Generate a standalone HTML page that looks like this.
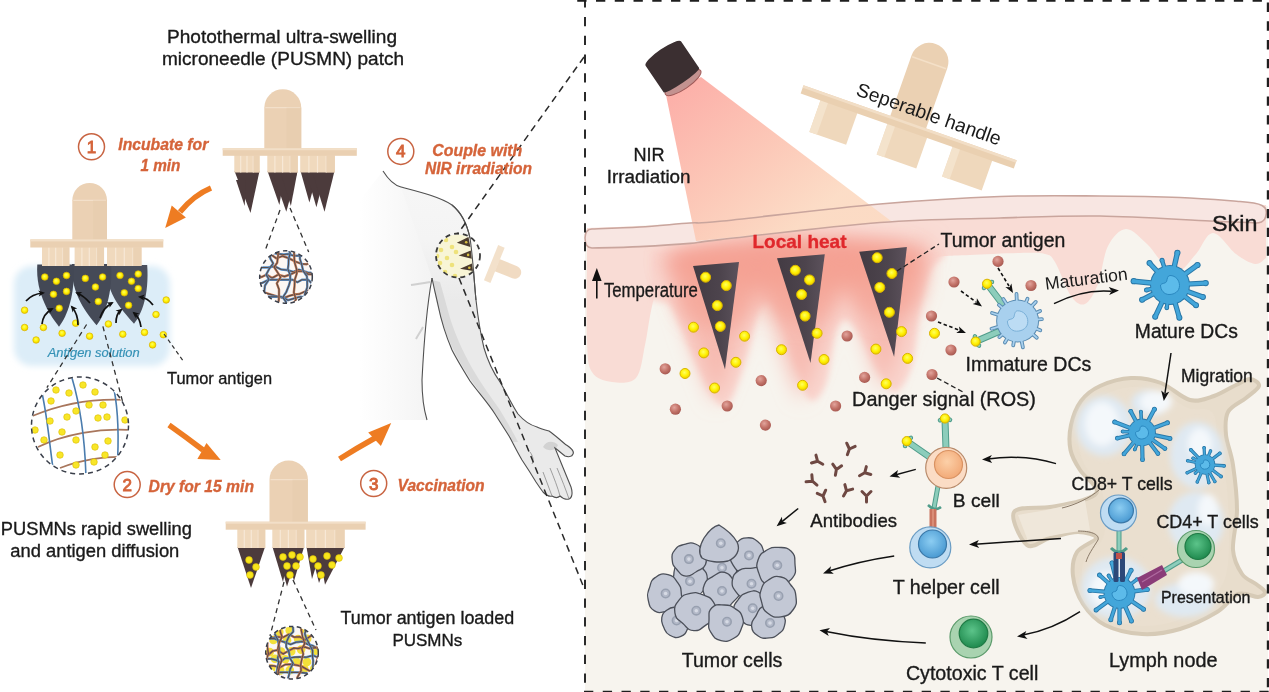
<!DOCTYPE html>
<html><head><meta charset="utf-8"><style>
html,body{margin:0;padding:0;background:#fff;width:1269px;height:692px;overflow:hidden;}
svg{display:block;}
text{font-family:"Liberation Sans", sans-serif;}
svg{will-change:transform;}
</style></head><body>
<svg width="1269" height="692" viewBox="0 0 1269 692">
<defs>
<radialGradient id="gy" cx="0.45" cy="0.4" r="0.6"><stop offset="0" stop-color="#ffff60"/><stop offset="0.6" stop-color="#fff000"/><stop offset="1" stop-color="#eccb00"/></radialGradient>
<radialGradient id="gr" cx="0.4" cy="0.35" r="0.65"><stop offset="0" stop-color="#e2a49c"/><stop offset="0.6" stop-color="#c27268"/><stop offset="1" stop-color="#a85a52"/></radialGradient>
<linearGradient id="beam" x1="690" y1="85" x2="800" y2="225" gradientUnits="userSpaceOnUse"><stop offset="0" stop-color="#fcaaa2"/><stop offset="0.55" stop-color="#fcc4b2"/><stop offset="1" stop-color="#fcdac2"/></linearGradient>
<linearGradient id="needle" x1="0" y1="0" x2="1" y2="0"><stop offset="0" stop-color="#433b43"/><stop offset="0.6" stop-color="#4d444d"/><stop offset="1" stop-color="#5c525c"/></linearGradient>
<radialGradient id="heat" cx="0.5" cy="0.4" r="0.5"><stop offset="0" stop-color="#f59a90" stop-opacity="0.95"/><stop offset="0.55" stop-color="#f7aaa0" stop-opacity="0.7"/><stop offset="1" stop-color="#f8c0b8" stop-opacity="0"/></radialGradient>
<filter id="blur6" x="-50%" y="-50%" width="200%" height="200%"><feGaussianBlur stdDeviation="6"/></filter>
<filter id="blur3" x="-50%" y="-50%" width="200%" height="200%"><feGaussianBlur stdDeviation="3"/></filter>
<filter id="blur10" x="-50%" y="-50%" width="200%" height="200%"><feGaussianBlur stdDeviation="10"/></filter>
<radialGradient id="dcm" cx="0.45" cy="0.45" r="0.6"><stop offset="0" stop-color="#5cc0ee"/><stop offset="1" stop-color="#2f96cc"/></radialGradient>
<radialGradient id="dci" cx="0.45" cy="0.45" r="0.6"><stop offset="0" stop-color="#c4e0f4"/><stop offset="1" stop-color="#98c4e4"/></radialGradient>
<radialGradient id="tum" cx="0.5" cy="0.5" r="0.5"><stop offset="0" stop-color="#d8dce6"/><stop offset="1" stop-color="#c0c6d4"/></radialGradient>
<radialGradient id="gnuc" cx="0.45" cy="0.4" r="0.6"><stop offset="0" stop-color="#5cc48a"/><stop offset="1" stop-color="#1f8a4e"/></radialGradient>
<radialGradient id="bnuc" cx="0.45" cy="0.4" r="0.6"><stop offset="0" stop-color="#8ccdf2"/><stop offset="1" stop-color="#4a9ad2"/></radialGradient>
<radialGradient id="onuc" cx="0.45" cy="0.4" r="0.6"><stop offset="0" stop-color="#fcd0a8"/><stop offset="1" stop-color="#f2aa78"/></radialGradient>
<clipPath id="c1"><circle cx="286" cy="277" r="26"/></clipPath>
<clipPath id="c2"><circle cx="80" cy="425.5" r="48"/></clipPath>
<clipPath id="c3"><circle cx="292" cy="652.7" r="26"/></clipPath>
<clipPath id="c4"><circle cx="458" cy="256" r="21.5"/></clipPath>
<clipPath id="rp"><rect x="585" y="0" width="684" height="692"/></clipPath>
</defs>
<rect x="0" y="0" width="1269" height="692" fill="#ffffff"/>
<path d="M585,229 L700,222 L880,204 L1000,196.5 L1100,196 L1240,201.5 L1268,206 L1268,692 L585,692 Z" fill="#f7f4ee"/>
<path d="M587.0,250.0 C587.0,265.0 586.2,319.7 587.0,340.0 C587.8,360.3 587.8,365.0 592.0,372.0 C596.2,379.0 604.7,381.0 612.0,382.0 C619.3,383.0 630.5,384.2 636.0,378.0 C641.5,371.8 642.7,355.3 645.0,345.0 C647.3,334.7 648.2,325.2 650.0,316.0 C651.8,306.8 654.0,297.3 656.0,290.0 C658.0,282.7 661.0,275.0 662.0,272.0 L700,262 L800,258 L900,262 L945.0,256.0 C949.2,255.8 957.5,255.5 970.0,255.0 C982.5,254.5 1007.5,253.2 1020.0,253.0 C1032.5,252.8 1039.2,252.5 1045.0,254.0 C1050.8,255.5 1050.7,255.0 1055.0,262.0 C1059.3,269.0 1066.0,289.0 1071.0,296.0 C1076.0,303.0 1080.5,306.0 1085.0,304.0 C1089.5,302.0 1094.2,293.7 1098.0,284.0 C1101.8,274.3 1103.3,255.2 1108.0,246.0 C1112.7,236.8 1119.5,229.3 1126.0,229.0 C1132.5,228.7 1141.0,238.5 1147.0,244.0 C1153.0,249.5 1156.8,257.3 1162.0,262.0 C1167.2,266.7 1172.3,273.3 1178.0,272.0 C1183.7,270.7 1190.2,260.5 1196.0,254.0 C1201.8,247.5 1206.3,233.0 1213.0,233.0 C1219.7,233.0 1229.0,248.8 1236.0,254.0 C1243.0,259.2 1250.0,263.3 1255.0,264.0 C1260.0,264.7 1264.2,259.0 1266.0,258.0 L1266,205 L587,228 Z" fill="#f9dcd5"/>
<path d="M650.0,300.0 C651.7,300.3 656.3,300.7 660.0,302.0 C663.7,303.3 667.0,300.0 672.0,308.0 C677.0,316.0 683.3,335.3 690.0,350.0 C696.7,364.7 705.7,387.0 712.0,396.0 C718.3,405.0 722.5,409.7 728.0,404.0 C733.5,398.3 740.0,377.0 745.0,362.0 C750.0,347.0 754.2,324.0 758.0,314.0 C761.8,304.0 764.7,302.0 768.0,302.0 C771.3,302.0 773.5,303.5 778.0,314.0 C782.5,324.5 789.7,350.7 795.0,365.0 C800.3,379.3 804.8,396.8 810.0,400.0 C815.2,403.2 821.8,394.8 826.0,384.0 C830.2,373.2 831.8,345.7 835.0,335.0 C838.2,324.3 841.2,320.5 845.0,320.0 C848.8,319.5 852.5,323.3 858.0,332.0 C863.5,340.7 871.8,362.0 878.0,372.0 C884.2,382.0 889.3,393.0 895.0,392.0 C900.7,391.0 907.8,379.7 912.0,366.0 C916.2,352.3 917.0,325.7 920.0,310.0 C923.0,294.3 925.8,281.0 930.0,272.0 C934.2,263.0 942.5,258.7 945.0,256.0 L945,250 L650,250 Z" fill="#f9d6cf" filter="url(#blur3)"/>
<g filter="url(#blur10)">
<path d="M664,255 Q684.8,330.0 716,405 Q747.2,330.0 768,255 Z" fill="#f6b8ae" opacity="0.9"/>
<path d="M751,248 Q771.0,325.0 801,402 Q831.0,325.0 851,248 Z" fill="#f6b8ae" opacity="0.9"/>
<path d="M836,242 Q855.2,317.0 884,392 Q912.8,317.0 932,242 Z" fill="#f6b8ae" opacity="0.9"/>
</g>
<g filter="url(#blur10)">
<ellipse cx="795" cy="262" rx="130" ry="26" fill="#f59c8e" opacity="0.85"/>
<ellipse cx="716" cy="290" rx="40" ry="38" fill="#f5a294" opacity="0.7"/>
<ellipse cx="801" cy="285" rx="40" ry="38" fill="#f5a294" opacity="0.7"/>
<ellipse cx="884" cy="280" rx="40" ry="38" fill="#f5a294" opacity="0.7"/>
</g>
<path d="M592.0,229.0 C600.0,228.7 623.7,228.0 640.0,227.0 C656.3,226.0 676.7,223.9 690.0,223.0 C703.3,222.1 688.3,224.5 720.0,221.3 C751.7,218.1 833.3,208.1 880.0,204.0 C926.7,199.9 963.3,197.8 1000.0,196.5 C1036.7,195.2 1070.0,195.8 1100.0,196.0 C1130.0,196.2 1156.7,196.6 1180.0,197.5 C1203.3,198.4 1230.0,200.8 1240.0,201.5 C1262,203 1268,206 1266,215 C1265,222 1260,224 1250,222.5 C1243.3,222.2 1235.0,222.1 1210.0,221.0 C1185.0,219.9 1135.0,216.5 1100.0,216.0 C1065.0,215.5 1036.7,216.9 1000.0,218.0 C963.3,219.1 926.7,218.9 880.0,222.5 C833.3,226.1 751.7,236.1 720.0,239.6 C688.3,243.1 703.3,242.2 690.0,243.4 C676.7,244.6 656.3,245.8 640.0,246.6 C623.7,247.4 600.0,247.8 592.0,248.0 C586,248 585,243 585,238 C585,232 587,229.2 592,229 Z" fill="#f8e6e2"/>
<path d="M666,95 L701,77 L891,221 L880,222.5 L696,241 Z" fill="url(#beam)" opacity="0.92"/>
<path d="M592.0,229.0 C600.0,228.7 623.7,228.0 640.0,227.0 C656.3,226.0 676.7,223.9 690.0,223.0 C703.3,222.1 688.3,224.5 720.0,221.3 C751.7,218.1 833.3,208.1 880.0,204.0 C926.7,199.9 963.3,197.8 1000.0,196.5 C1036.7,195.2 1070.0,195.8 1100.0,196.0 C1130.0,196.2 1156.7,196.6 1180.0,197.5 C1203.3,198.4 1230.0,200.8 1240.0,201.5 C1262,203 1268,206 1266,215 C1265,222 1260,224 1250,222.5 C1243.3,222.2 1235.0,222.1 1210.0,221.0 C1185.0,219.9 1135.0,216.5 1100.0,216.0 C1065.0,215.5 1036.7,216.9 1000.0,218.0 C963.3,219.1 926.7,218.9 880.0,222.5 C833.3,226.1 751.7,236.1 720.0,239.6 C688.3,243.1 703.3,242.2 690.0,243.4 C676.7,244.6 656.3,245.8 640.0,246.6 C623.7,247.4 600.0,247.8 592.0,248.0 C586,248 585,243 585,238 C585,232 587,229.2 592,229 Z" fill="none" stroke="#c9a59d" stroke-width="1.6"/>
<g transform="translate(673.5,68.5) rotate(-34.2)"><ellipse cx="0" cy="17" rx="21.3" ry="6.5" fill="#c39290" stroke="#a05a58" stroke-width="1"/><path d="M-21.5,-18 A21.5,5 0 0 1 21.5,-18 L21.5,14 A21.5,3 0 0 1 -21.5,14 Z" fill="#3b2f31"/></g>
<g transform="translate(803.5,85.3) rotate(19.4)"><path d="M92,2 V-64 A19,19 0 0 1 130,-64 V2 Z" fill="#ebd1b3"/><line x1="93" y1="-63" x2="129" y2="-63" stroke="#f4e0c8" stroke-width="1.5"/><rect x="21" y="6" width="39" height="36" fill="#efd8bc"/><rect x="92" y="6" width="42" height="35" fill="#efd8bc"/><rect x="161" y="6" width="42" height="34" fill="#efd8bc"/><rect x="21" y="6" width="8" height="36" fill="#f4e3cc"/><rect x="92" y="6" width="8" height="35" fill="#f4e3cc"/><rect x="161" y="6" width="8" height="34" fill="#f4e3cc"/><rect x="0" y="0" width="226" height="8.6" fill="#ead0b1"/><rect x="0" y="0" width="226" height="2.5" fill="#f2dec6"/></g>
<text transform="translate(855.1,95.1) rotate(19.4)" font-size="19.4" fill="#1a1a1a" textLength="152" lengthAdjust="spacingAndGlyphs">Seperable handle</text>
<path d="M693,266 L739,262 L725,369.4 Z" fill="url(#needle)"/>
<path d="M777,258.2 L824.8,254.3 L810.5,363 Z" fill="url(#needle)"/>
<path d="M859.2,251.8 L906.9,247 L894.1,356.7 Z" fill="url(#needle)"/>
<circle cx="705.6" cy="277.2" r="5.0" fill="url(#gy)" stroke="#d9b300" stroke-width="1"/>
<circle cx="726.3" cy="285.6" r="5.0" fill="url(#gy)" stroke="#d9b300" stroke-width="1"/>
<circle cx="717.3" cy="305.6" r="5.0" fill="url(#gy)" stroke="#d9b300" stroke-width="1"/>
<circle cx="720.3" cy="326.4" r="5.0" fill="url(#gy)" stroke="#d9b300" stroke-width="1"/>
<circle cx="795.3" cy="270.3" r="5.0" fill="url(#gy)" stroke="#d9b300" stroke-width="1"/>
<circle cx="809.5" cy="279.9" r="5.0" fill="url(#gy)" stroke="#d9b300" stroke-width="1"/>
<circle cx="801.6" cy="294.5" r="5.0" fill="url(#gy)" stroke="#d9b300" stroke-width="1"/>
<circle cx="805.1" cy="316.1" r="5.0" fill="url(#gy)" stroke="#d9b300" stroke-width="1"/>
<circle cx="877.2" cy="257.7" r="5.0" fill="url(#gy)" stroke="#d9b300" stroke-width="1"/>
<circle cx="891.9" cy="273.5" r="5.0" fill="url(#gy)" stroke="#d9b300" stroke-width="1"/>
<circle cx="879.8" cy="287.4" r="5.0" fill="url(#gy)" stroke="#d9b300" stroke-width="1"/>
<circle cx="889.4" cy="312.3" r="5.0" fill="url(#gy)" stroke="#d9b300" stroke-width="1"/>
<circle cx="693.5" cy="327.2" r="5.0" fill="url(#gy)" stroke="#d9b300" stroke-width="1"/>
<circle cx="744.6" cy="336.2" r="5.0" fill="url(#gy)" stroke="#d9b300" stroke-width="1"/>
<circle cx="703.8" cy="352.9" r="5.0" fill="url(#gy)" stroke="#d9b300" stroke-width="1"/>
<circle cx="735.9" cy="362.3" r="5.0" fill="url(#gy)" stroke="#d9b300" stroke-width="1"/>
<circle cx="685" cy="373.5" r="5.0" fill="url(#gy)" stroke="#d9b300" stroke-width="1"/>
<circle cx="714.6" cy="388" r="5.0" fill="url(#gy)" stroke="#d9b300" stroke-width="1"/>
<circle cx="781.5" cy="349.7" r="5.0" fill="url(#gy)" stroke="#d9b300" stroke-width="1"/>
<circle cx="817.1" cy="333.3" r="5.0" fill="url(#gy)" stroke="#d9b300" stroke-width="1"/>
<circle cx="824" cy="359.5" r="5.0" fill="url(#gy)" stroke="#d9b300" stroke-width="1"/>
<circle cx="802.6" cy="385.3" r="5.0" fill="url(#gy)" stroke="#d9b300" stroke-width="1"/>
<circle cx="875.9" cy="349.1" r="5.0" fill="url(#gy)" stroke="#d9b300" stroke-width="1"/>
<circle cx="901.5" cy="331.6" r="5.0" fill="url(#gy)" stroke="#d9b300" stroke-width="1"/>
<circle cx="907.6" cy="358.4" r="5.0" fill="url(#gy)" stroke="#d9b300" stroke-width="1"/>
<circle cx="886.2" cy="383.8" r="5.0" fill="url(#gy)" stroke="#d9b300" stroke-width="1"/>
<circle cx="934.5" cy="333.3" r="5.0" fill="url(#gy)" stroke="#d9b300" stroke-width="1"/>
<circle cx="665.2" cy="368.8" r="5.6" fill="url(#gr)"/>
<circle cx="675.4" cy="409.2" r="5.6" fill="url(#gr)"/>
<circle cx="727.2" cy="406" r="5.6" fill="url(#gr)"/>
<circle cx="761.2" cy="380.6" r="5.6" fill="url(#gr)"/>
<circle cx="765.4" cy="425.1" r="5.6" fill="url(#gr)"/>
<circle cx="835.6" cy="406" r="5.6" fill="url(#gr)"/>
<circle cx="847.1" cy="336" r="5.6" fill="url(#gr)"/>
<circle cx="864.6" cy="377.4" r="5.6" fill="url(#gr)"/>
<circle cx="931.5" cy="316" r="5.6" fill="url(#gr)"/>
<circle cx="932" cy="374.5" r="5.6" fill="url(#gr)"/>
<circle cx="954" cy="282" r="5.6" fill="url(#gr)"/>
<circle cx="951" cy="350" r="5.6" fill="url(#gr)"/>
<circle cx="998" cy="261.4" r="5.6" fill="url(#gr)"/>
<circle cx="1031" cy="285.5" r="5.6" fill="url(#gr)"/>
<path d="M1097.0,491.0 C1097.0,485.8 1084.4,476.8 1080.0,470.0 C1075.6,463.2 1072.0,457.5 1070.5,450.0 C1069.0,442.5 1069.2,433.2 1071.0,425.0 C1072.8,416.8 1076.2,407.5 1081.0,401.0 C1085.8,394.5 1091.7,389.8 1100.0,386.0 C1108.3,382.2 1120.8,378.5 1131.0,378.0 C1141.2,377.5 1151.2,379.3 1161.0,383.0 C1170.8,386.7 1181.2,397.8 1190.0,400.0 C1198.8,402.2 1206.3,398.5 1214.0,396.0 C1221.7,393.5 1230.0,387.8 1236.0,385.0 C1242.0,382.2 1246.2,378.8 1250.0,379.0 C1253.8,379.2 1259.7,382.8 1259.0,386.0 C1258.3,389.2 1251.2,393.7 1246.0,398.0 C1240.8,402.3 1231.3,405.8 1228.0,412.0 C1224.7,418.2 1225.2,426.2 1226.0,435.0 C1226.8,443.8 1231.2,452.5 1233.0,465.0 C1234.8,477.5 1237.0,495.8 1237.0,510.0 C1237.0,524.2 1232.2,539.3 1233.0,550.0 C1233.8,560.7 1238.2,568.3 1242.0,574.0 C1245.8,579.7 1252.2,581.0 1256.0,584.0 C1259.8,587.0 1264.7,589.8 1265.0,592.0 C1265.3,594.2 1262.5,596.7 1258.0,597.0 C1253.5,597.3 1244.8,591.5 1238.0,594.0 C1231.2,596.5 1226.7,606.2 1217.0,612.0 C1207.3,617.8 1192.5,625.3 1180.0,629.0 C1167.5,632.7 1154.5,634.7 1142.0,634.0 C1129.5,633.3 1114.8,630.0 1105.0,625.0 C1095.2,620.0 1088.3,612.2 1083.0,604.0 C1077.7,595.8 1074.0,584.7 1073.0,576.0 C1072.0,567.3 1073.2,558.3 1077.0,552.0 C1080.8,545.7 1095.8,541.3 1096.0,538.0 C1096.2,534.7 1085.7,532.0 1078.0,532.0 C1070.3,532.0 1058.5,535.8 1050.0,538.0 C1041.5,540.2 1033.0,549.3 1027.0,545.0 C1021.0,540.7 1010.2,518.3 1014.0,512.0 C1017.8,505.7 1039.0,508.8 1050.0,507.0 C1061.0,505.2 1072.2,503.7 1080.0,501.0 C1087.8,498.3 1097.0,496.2 1097.0,491.0Z" fill="#e8ddcc" stroke="#d6cab6" stroke-width="4"/>
<path d="M1100.0,486.0 C1096.3,477.5 1087.7,471.7 1084.0,464.0 C1080.3,456.3 1078.5,447.7 1078.0,440.0 C1077.5,432.3 1078.7,424.2 1081.0,418.0 C1083.3,411.8 1087.5,407.2 1092.0,403.0 C1096.5,398.8 1101.2,395.7 1108.0,393.0 C1114.8,390.3 1124.3,387.3 1133.0,387.0 C1141.7,386.7 1150.8,387.5 1160.0,391.0 C1169.2,394.5 1179.3,404.5 1188.0,408.0 C1196.7,411.5 1207.0,406.7 1212.0,412.0 C1217.0,417.3 1215.7,428.7 1218.0,440.0 C1220.3,451.3 1224.2,465.0 1226.0,480.0 C1227.8,495.0 1229.0,514.2 1229.0,530.0 C1229.0,545.8 1229.2,563.3 1226.0,575.0 C1222.8,586.7 1218.0,592.5 1210.0,600.0 C1202.0,607.5 1189.3,615.7 1178.0,620.0 C1166.7,624.3 1153.7,626.3 1142.0,626.0 C1130.3,625.7 1116.7,622.3 1108.0,618.0 C1099.3,613.7 1094.3,607.0 1090.0,600.0 C1085.7,593.0 1082.7,583.3 1082.0,576.0 C1081.3,568.7 1082.7,562.0 1086.0,556.0 C1089.3,550.0 1098.7,546.8 1102.0,540.0 C1105.3,533.2 1106.3,524.0 1106.0,515.0 C1105.7,506.0 1103.7,494.5 1100.0,486.0Z" fill="#eadfcf"/>
<path d="M1018,515 C1040,511 1062,508 1085,500 L1090,530 C1068,532 1045,537 1028,541 Z" fill="#efe7da"/>
<g filter="url(#blur3)">
<ellipse cx="1104" cy="426" rx="28" ry="30" fill="#dfe9f2"/>
<ellipse cx="1150" cy="403" rx="19" ry="13" fill="#dfe9f2"/>
<ellipse cx="1197" cy="455" rx="27" ry="33" fill="#dfe9f2"/>
<ellipse cx="1196" cy="522" rx="28" ry="30" fill="#dfe9f2"/>
<ellipse cx="1116" cy="588" rx="35" ry="31" fill="#dfe9f2"/>
<ellipse cx="1185" cy="600" rx="30" ry="17" fill="#dfe9f2"/>
<ellipse cx="1102" cy="424" rx="17" ry="22" fill="#f4f8fb"/>
<ellipse cx="1156" cy="402" rx="16" ry="11" fill="#f4f8fb"/>
<ellipse cx="1200" cy="444" rx="12" ry="16" fill="#f4f8fb"/>
<ellipse cx="1208" cy="510" rx="10" ry="16" fill="#f4f8fb"/>
<ellipse cx="1108" cy="590" rx="18" ry="18" fill="#f4f8fb"/>
<ellipse cx="1196" cy="584" rx="18" ry="12" fill="#f4f8fb"/>
</g>
<path d="M1062,508 C1075,505 1090,498 1099,490" fill="none" stroke="#8a7a68" stroke-width="1"/>
<path d="M1078,531 C1090,531 1100,534 1098,540 C1093,548 1088,555 1086,562" fill="none" stroke="#8a7a68" stroke-width="1"/>
<line x1="1004" y1="306" x2="988" y2="285" stroke="#4f9c8a" stroke-width="7" stroke-linecap="round"/>
<line x1="1004" y1="306" x2="988" y2="285" stroke="#8ccdbb" stroke-width="5" stroke-linecap="round"/>
<path d="M984.0,288.0 Q985.6,281.8 992.0,282.0" fill="none" stroke="#4f9c8a" stroke-width="4.5" stroke-linecap="round"/>
<path d="M984.0,288.0 Q985.6,281.8 992.0,282.0" fill="none" stroke="#8ccdbb" stroke-width="2.5" stroke-linecap="round"/>
<circle cx="987.0909351771057" cy="283.80685241995127" r="4.6" fill="url(#gy)" stroke="#d9b300" stroke-width="1"/>
<line x1="1000" y1="331" x2="977" y2="341" stroke="#4f9c8a" stroke-width="7" stroke-linecap="round"/>
<line x1="1000" y1="331" x2="977" y2="341" stroke="#8ccdbb" stroke-width="5" stroke-linecap="round"/>
<path d="M979.0,345.6 Q973.3,342.6 975.0,336.4" fill="none" stroke="#4f9c8a" stroke-width="4.5" stroke-linecap="round"/>
<path d="M979.0,345.6 Q973.3,342.6 975.0,336.4" fill="none" stroke="#8ccdbb" stroke-width="2.5" stroke-linecap="round"/>
<circle cx="975.6243949156202" cy="341.59808916712166" r="4.6" fill="url(#gy)" stroke="#d9b300" stroke-width="1"/>
<line x1="1029.9" y1="320.1" x2="1041.9" y2="319.2" stroke="#5a8cb2" stroke-width="3.8" stroke-linecap="round"/>
<line x1="1029.0" y1="325.7" x2="1040.3" y2="330.3" stroke="#5a8cb2" stroke-width="3.8" stroke-linecap="round"/>
<line x1="1026.9" y1="329.1" x2="1036.8" y2="337.7" stroke="#5a8cb2" stroke-width="3.8" stroke-linecap="round"/>
<line x1="1020.0" y1="333.1" x2="1022.9" y2="347.3" stroke="#5a8cb2" stroke-width="3.8" stroke-linecap="round"/>
<line x1="1015.4" y1="333.1" x2="1013.2" y2="345.4" stroke="#5a8cb2" stroke-width="3.8" stroke-linecap="round"/>
<line x1="1011.3" y1="331.6" x2="1004.9" y2="342.5" stroke="#5a8cb2" stroke-width="3.8" stroke-linecap="round"/>
<line x1="1008.4" y1="329.1" x2="999.3" y2="337.1" stroke="#5a8cb2" stroke-width="3.8" stroke-linecap="round"/>
<line x1="1005.8" y1="324.5" x2="991.5" y2="328.8" stroke="#5a8cb2" stroke-width="3.8" stroke-linecap="round"/>
<line x1="1005.9" y1="317.3" x2="992.0" y2="313.0" stroke="#5a8cb2" stroke-width="3.8" stroke-linecap="round"/>
<line x1="1008.3" y1="313.0" x2="998.9" y2="304.9" stroke="#5a8cb2" stroke-width="3.8" stroke-linecap="round"/>
<line x1="1010.9" y1="310.7" x2="1003.3" y2="299.0" stroke="#5a8cb2" stroke-width="3.8" stroke-linecap="round"/>
<line x1="1017.1" y1="308.7" x2="1016.5" y2="294.0" stroke="#5a8cb2" stroke-width="3.8" stroke-linecap="round"/>
<line x1="1022.6" y1="309.8" x2="1027.5" y2="298.8" stroke="#5a8cb2" stroke-width="3.8" stroke-linecap="round"/>
<line x1="1026.1" y1="312.1" x2="1035.8" y2="301.9" stroke="#5a8cb2" stroke-width="3.8" stroke-linecap="round"/>
<line x1="1028.8" y1="316.0" x2="1040.1" y2="311.0" stroke="#5a8cb2" stroke-width="3.8" stroke-linecap="round"/>
<circle cx="1017.6" cy="321" r="21.5" fill="#5a8cb2"/>
<line x1="1029.9" y1="320.1" x2="1041.9" y2="319.2" stroke="#a8d0ee" stroke-width="1.8" stroke-linecap="round"/>
<line x1="1029.0" y1="325.7" x2="1040.3" y2="330.3" stroke="#a8d0ee" stroke-width="1.8" stroke-linecap="round"/>
<line x1="1026.9" y1="329.1" x2="1036.8" y2="337.7" stroke="#a8d0ee" stroke-width="1.8" stroke-linecap="round"/>
<line x1="1020.0" y1="333.1" x2="1022.9" y2="347.3" stroke="#a8d0ee" stroke-width="1.8" stroke-linecap="round"/>
<line x1="1015.4" y1="333.1" x2="1013.2" y2="345.4" stroke="#a8d0ee" stroke-width="1.8" stroke-linecap="round"/>
<line x1="1011.3" y1="331.6" x2="1004.9" y2="342.5" stroke="#a8d0ee" stroke-width="1.8" stroke-linecap="round"/>
<line x1="1008.4" y1="329.1" x2="999.3" y2="337.1" stroke="#a8d0ee" stroke-width="1.8" stroke-linecap="round"/>
<line x1="1005.8" y1="324.5" x2="991.5" y2="328.8" stroke="#a8d0ee" stroke-width="1.8" stroke-linecap="round"/>
<line x1="1005.9" y1="317.3" x2="992.0" y2="313.0" stroke="#a8d0ee" stroke-width="1.8" stroke-linecap="round"/>
<line x1="1008.3" y1="313.0" x2="998.9" y2="304.9" stroke="#a8d0ee" stroke-width="1.8" stroke-linecap="round"/>
<line x1="1010.9" y1="310.7" x2="1003.3" y2="299.0" stroke="#a8d0ee" stroke-width="1.8" stroke-linecap="round"/>
<line x1="1017.1" y1="308.7" x2="1016.5" y2="294.0" stroke="#a8d0ee" stroke-width="1.8" stroke-linecap="round"/>
<line x1="1022.6" y1="309.8" x2="1027.5" y2="298.8" stroke="#a8d0ee" stroke-width="1.8" stroke-linecap="round"/>
<line x1="1026.1" y1="312.1" x2="1035.8" y2="301.9" stroke="#a8d0ee" stroke-width="1.8" stroke-linecap="round"/>
<line x1="1028.8" y1="316.0" x2="1040.1" y2="311.0" stroke="#a8d0ee" stroke-width="1.8" stroke-linecap="round"/>
<circle cx="1017.6" cy="321" r="20.5" fill="#a8d0ee"/>
<path d="M1017.6,310.8 C1023.8,310.8 1027.8,315.9 1027.8,321.5 C1027.8,327.7 1022.7,331.2 1016.6,331.2 C1011.5,331.2 1007.4,326.6 1007.4,321.0 C1008.9,318.4 1013.0,320.0 1014.0,316.9 C1014.5,314.3 1015.0,310.8 1017.6,310.8 Z" fill="#bcdcf4" stroke="#7ab0d8" stroke-width="1"/>
<line x1="1158.7" y1="283.8" x2="1133.7" y2="281.2" stroke="#2a78a8" stroke-width="5.4" stroke-linecap="round"/>
<circle cx="1133.7" cy="281.2" r="3.1" fill="#2a78a8"/>
<line x1="1162.2" y1="276.7" x2="1149.5" y2="263.1" stroke="#2a78a8" stroke-width="5.2" stroke-linecap="round"/>
<circle cx="1149.5" cy="263.1" r="3.0" fill="#2a78a8"/>
<line x1="1166.5" y1="274.2" x2="1162.0" y2="260.3" stroke="#2a78a8" stroke-width="4.4" stroke-linecap="round"/>
<circle cx="1162.0" cy="260.3" r="2.5" fill="#2a78a8"/>
<line x1="1172.6" y1="273.9" x2="1177.4" y2="252.8" stroke="#2a78a8" stroke-width="5.4" stroke-linecap="round"/>
<circle cx="1177.4" cy="252.8" r="3.1" fill="#2a78a8"/>
<line x1="1179.2" y1="278.3" x2="1197.5" y2="265.0" stroke="#2a78a8" stroke-width="5.4" stroke-linecap="round"/>
<circle cx="1197.5" cy="265.0" r="3.1" fill="#2a78a8"/>
<line x1="1181.4" y1="284.4" x2="1205.7" y2="283.1" stroke="#2a78a8" stroke-width="5.4" stroke-linecap="round"/>
<circle cx="1205.7" cy="283.1" r="3.1" fill="#2a78a8"/>
<line x1="1180.7" y1="288.9" x2="1202.9" y2="297.0" stroke="#2a78a8" stroke-width="5.2" stroke-linecap="round"/>
<circle cx="1202.9" cy="297.0" r="3.0" fill="#2a78a8"/>
<line x1="1179.0" y1="292.0" x2="1196.0" y2="305.3" stroke="#2a78a8" stroke-width="5.2" stroke-linecap="round"/>
<circle cx="1196.0" cy="305.3" r="3.0" fill="#2a78a8"/>
<line x1="1173.1" y1="296.0" x2="1179.4" y2="317.7" stroke="#2a78a8" stroke-width="5.2" stroke-linecap="round"/>
<circle cx="1179.4" cy="317.7" r="3.0" fill="#2a78a8"/>
<line x1="1168.4" y1="296.3" x2="1166.8" y2="307.8" stroke="#2a78a8" stroke-width="4.2" stroke-linecap="round"/>
<circle cx="1166.8" cy="307.8" r="2.4" fill="#2a78a8"/>
<line x1="1165.2" y1="295.3" x2="1155.2" y2="316.7" stroke="#2a78a8" stroke-width="5.2" stroke-linecap="round"/>
<circle cx="1155.2" cy="316.7" r="3.0" fill="#2a78a8"/>
<line x1="1159.9" y1="290.4" x2="1142.1" y2="299.8" stroke="#2a78a8" stroke-width="5.2" stroke-linecap="round"/>
<circle cx="1142.1" cy="299.8" r="3.0" fill="#2a78a8"/>
<line x1="1158.8" y1="287.4" x2="1146.5" y2="290.0" stroke="#2a78a8" stroke-width="4.4" stroke-linecap="round"/>
<circle cx="1146.5" cy="290.0" r="2.5" fill="#2a78a8"/>
<circle cx="1170" cy="285" r="20.0" fill="#2a78a8"/>
<line x1="1158.7" y1="283.8" x2="1133.7" y2="281.2" stroke="#43a6da" stroke-width="3.4" stroke-linecap="round"/>
<circle cx="1133.7" cy="281.2" r="2.1" fill="#43a6da"/>
<line x1="1162.2" y1="276.7" x2="1149.5" y2="263.1" stroke="#43a6da" stroke-width="3.2" stroke-linecap="round"/>
<circle cx="1149.5" cy="263.1" r="2.0" fill="#43a6da"/>
<line x1="1166.5" y1="274.2" x2="1162.0" y2="260.3" stroke="#43a6da" stroke-width="2.4" stroke-linecap="round"/>
<circle cx="1162.0" cy="260.3" r="1.5" fill="#43a6da"/>
<line x1="1172.6" y1="273.9" x2="1177.4" y2="252.8" stroke="#43a6da" stroke-width="3.4" stroke-linecap="round"/>
<circle cx="1177.4" cy="252.8" r="2.1" fill="#43a6da"/>
<line x1="1179.2" y1="278.3" x2="1197.5" y2="265.0" stroke="#43a6da" stroke-width="3.4" stroke-linecap="round"/>
<circle cx="1197.5" cy="265.0" r="2.1" fill="#43a6da"/>
<line x1="1181.4" y1="284.4" x2="1205.7" y2="283.1" stroke="#43a6da" stroke-width="3.4" stroke-linecap="round"/>
<circle cx="1205.7" cy="283.1" r="2.1" fill="#43a6da"/>
<line x1="1180.7" y1="288.9" x2="1202.9" y2="297.0" stroke="#43a6da" stroke-width="3.2" stroke-linecap="round"/>
<circle cx="1202.9" cy="297.0" r="2.0" fill="#43a6da"/>
<line x1="1179.0" y1="292.0" x2="1196.0" y2="305.3" stroke="#43a6da" stroke-width="3.2" stroke-linecap="round"/>
<circle cx="1196.0" cy="305.3" r="2.0" fill="#43a6da"/>
<line x1="1173.1" y1="296.0" x2="1179.4" y2="317.7" stroke="#43a6da" stroke-width="3.2" stroke-linecap="round"/>
<circle cx="1179.4" cy="317.7" r="2.0" fill="#43a6da"/>
<line x1="1168.4" y1="296.3" x2="1166.8" y2="307.8" stroke="#43a6da" stroke-width="2.2" stroke-linecap="round"/>
<circle cx="1166.8" cy="307.8" r="1.4" fill="#43a6da"/>
<line x1="1165.2" y1="295.3" x2="1155.2" y2="316.7" stroke="#43a6da" stroke-width="3.2" stroke-linecap="round"/>
<circle cx="1155.2" cy="316.7" r="2.0" fill="#43a6da"/>
<line x1="1159.9" y1="290.4" x2="1142.1" y2="299.8" stroke="#43a6da" stroke-width="3.2" stroke-linecap="round"/>
<circle cx="1142.1" cy="299.8" r="2.0" fill="#43a6da"/>
<line x1="1158.8" y1="287.4" x2="1146.5" y2="290.0" stroke="#43a6da" stroke-width="2.4" stroke-linecap="round"/>
<circle cx="1146.5" cy="290.0" r="1.5" fill="#43a6da"/>
<circle cx="1170" cy="285" r="19" fill="#43a6da"/>
<path d="M1170.0,275.5 C1175.7,275.5 1179.5,280.2 1179.5,285.5 C1179.5,291.2 1174.8,294.5 1169.0,294.5 C1164.3,294.5 1160.5,290.2 1160.5,285.0 C1161.9,282.6 1165.7,284.1 1166.7,281.2 C1167.2,278.8 1167.6,275.5 1170.0,275.5 Z" fill="#5cbbea" stroke="#2a88c0" stroke-width="1"/>
<line x1="1134.7" y1="429.7" x2="1114.7" y2="422.0" stroke="#2a78a8" stroke-width="4.3" stroke-linecap="round"/>
<circle cx="1114.7" cy="422.0" r="2.5" fill="#2a78a8"/>
<line x1="1138.3" y1="425.6" x2="1130.7" y2="411.3" stroke="#2a78a8" stroke-width="4.2" stroke-linecap="round"/>
<circle cx="1130.7" cy="411.3" r="2.4" fill="#2a78a8"/>
<line x1="1141.6" y1="424.7" x2="1140.9" y2="411.7" stroke="#2a78a8" stroke-width="3.6" stroke-linecap="round"/>
<circle cx="1140.9" cy="411.7" r="2.0" fill="#2a78a8"/>
<line x1="1145.7" y1="425.6" x2="1154.4" y2="409.2" stroke="#2a78a8" stroke-width="4.3" stroke-linecap="round"/>
<circle cx="1154.4" cy="409.2" r="2.5" fill="#2a78a8"/>
<line x1="1149.3" y1="429.7" x2="1167.4" y2="422.8" stroke="#2a78a8" stroke-width="4.3" stroke-linecap="round"/>
<circle cx="1167.4" cy="422.8" r="2.5" fill="#2a78a8"/>
<line x1="1149.6" y1="434.1" x2="1169.9" y2="438.4" stroke="#2a78a8" stroke-width="4.3" stroke-linecap="round"/>
<circle cx="1169.9" cy="438.4" r="2.5" fill="#2a78a8"/>
<line x1="1148.4" y1="437.0" x2="1164.9" y2="448.6" stroke="#2a78a8" stroke-width="4.2" stroke-linecap="round"/>
<circle cx="1164.9" cy="448.6" r="2.4" fill="#2a78a8"/>
<line x1="1146.7" y1="438.7" x2="1157.9" y2="453.6" stroke="#2a78a8" stroke-width="4.2" stroke-linecap="round"/>
<circle cx="1157.9" cy="453.6" r="2.4" fill="#2a78a8"/>
<line x1="1142.1" y1="440.3" x2="1142.5" y2="459.7" stroke="#2a78a8" stroke-width="4.2" stroke-linecap="round"/>
<circle cx="1142.5" cy="459.7" r="2.4" fill="#2a78a8"/>
<line x1="1139.0" y1="439.7" x2="1134.8" y2="449.4" stroke="#2a78a8" stroke-width="3.4" stroke-linecap="round"/>
<circle cx="1134.8" cy="449.4" r="1.9" fill="#2a78a8"/>
<line x1="1137.0" y1="438.5" x2="1124.0" y2="453.9" stroke="#2a78a8" stroke-width="4.2" stroke-linecap="round"/>
<circle cx="1124.0" cy="453.9" r="2.4" fill="#2a78a8"/>
<line x1="1134.4" y1="434.3" x2="1117.4" y2="438.2" stroke="#2a78a8" stroke-width="4.2" stroke-linecap="round"/>
<circle cx="1117.4" cy="438.2" r="2.4" fill="#2a78a8"/>
<line x1="1134.2" y1="432.1" x2="1122.8" y2="431.5" stroke="#2a78a8" stroke-width="3.6" stroke-linecap="round"/>
<circle cx="1122.8" cy="431.5" r="2.0" fill="#2a78a8"/>
<circle cx="1142" cy="432.5" r="13.9" fill="#2a78a8"/>
<line x1="1134.7" y1="429.7" x2="1114.7" y2="422.0" stroke="#43a6da" stroke-width="2.5" stroke-linecap="round"/>
<circle cx="1114.7" cy="422.0" r="1.6" fill="#43a6da"/>
<line x1="1138.3" y1="425.6" x2="1130.7" y2="411.3" stroke="#43a6da" stroke-width="2.4" stroke-linecap="round"/>
<circle cx="1130.7" cy="411.3" r="1.5" fill="#43a6da"/>
<line x1="1141.6" y1="424.7" x2="1140.9" y2="411.7" stroke="#43a6da" stroke-width="1.8" stroke-linecap="round"/>
<circle cx="1140.9" cy="411.7" r="1.1" fill="#43a6da"/>
<line x1="1145.7" y1="425.6" x2="1154.4" y2="409.2" stroke="#43a6da" stroke-width="2.5" stroke-linecap="round"/>
<circle cx="1154.4" cy="409.2" r="1.6" fill="#43a6da"/>
<line x1="1149.3" y1="429.7" x2="1167.4" y2="422.8" stroke="#43a6da" stroke-width="2.5" stroke-linecap="round"/>
<circle cx="1167.4" cy="422.8" r="1.6" fill="#43a6da"/>
<line x1="1149.6" y1="434.1" x2="1169.9" y2="438.4" stroke="#43a6da" stroke-width="2.5" stroke-linecap="round"/>
<circle cx="1169.9" cy="438.4" r="1.6" fill="#43a6da"/>
<line x1="1148.4" y1="437.0" x2="1164.9" y2="448.6" stroke="#43a6da" stroke-width="2.4" stroke-linecap="round"/>
<circle cx="1164.9" cy="448.6" r="1.5" fill="#43a6da"/>
<line x1="1146.7" y1="438.7" x2="1157.9" y2="453.6" stroke="#43a6da" stroke-width="2.4" stroke-linecap="round"/>
<circle cx="1157.9" cy="453.6" r="1.5" fill="#43a6da"/>
<line x1="1142.1" y1="440.3" x2="1142.5" y2="459.7" stroke="#43a6da" stroke-width="2.4" stroke-linecap="round"/>
<circle cx="1142.5" cy="459.7" r="1.5" fill="#43a6da"/>
<line x1="1139.0" y1="439.7" x2="1134.8" y2="449.4" stroke="#43a6da" stroke-width="1.6" stroke-linecap="round"/>
<circle cx="1134.8" cy="449.4" r="1.0" fill="#43a6da"/>
<line x1="1137.0" y1="438.5" x2="1124.0" y2="453.9" stroke="#43a6da" stroke-width="2.4" stroke-linecap="round"/>
<circle cx="1124.0" cy="453.9" r="1.5" fill="#43a6da"/>
<line x1="1134.4" y1="434.3" x2="1117.4" y2="438.2" stroke="#43a6da" stroke-width="2.4" stroke-linecap="round"/>
<circle cx="1117.4" cy="438.2" r="1.5" fill="#43a6da"/>
<line x1="1134.2" y1="432.1" x2="1122.8" y2="431.5" stroke="#43a6da" stroke-width="1.8" stroke-linecap="round"/>
<circle cx="1122.8" cy="431.5" r="1.1" fill="#43a6da"/>
<circle cx="1142" cy="432.5" r="13" fill="#43a6da"/>
<path d="M1142.0,426.0 C1145.9,426.0 1148.5,429.2 1148.5,432.8 C1148.5,436.7 1145.2,439.0 1141.3,439.0 C1138.1,439.0 1135.5,436.1 1135.5,432.5 C1136.5,430.9 1139.1,431.9 1139.7,429.9 C1140.0,428.3 1140.4,426.0 1142.0,426.0 Z" fill="#5cbbea" stroke="#2a88c0" stroke-width="1"/>
<line x1="1201.0" y1="460.4" x2="1190.8" y2="449.8" stroke="#2a78a8" stroke-width="3.4" stroke-linecap="round"/>
<circle cx="1190.8" cy="449.8" r="1.9" fill="#2a78a8"/>
<line x1="1204.7" y1="458.8" x2="1204.1" y2="447.7" stroke="#2a78a8" stroke-width="3.2" stroke-linecap="round"/>
<circle cx="1204.1" cy="447.7" r="1.8" fill="#2a78a8"/>
<line x1="1207.1" y1="459.2" x2="1210.5" y2="451.0" stroke="#2a78a8" stroke-width="3.2" stroke-linecap="round"/>
<circle cx="1210.5" cy="451.0" r="1.8" fill="#2a78a8"/>
<line x1="1209.6" y1="461.1" x2="1219.8" y2="453.4" stroke="#2a78a8" stroke-width="3.4" stroke-linecap="round"/>
<circle cx="1219.8" cy="453.4" r="1.9" fill="#2a78a8"/>
<line x1="1210.7" y1="464.9" x2="1224.0" y2="465.8" stroke="#2a78a8" stroke-width="3.4" stroke-linecap="round"/>
<circle cx="1224.0" cy="465.8" r="1.9" fill="#2a78a8"/>
<line x1="1209.6" y1="467.9" x2="1221.0" y2="476.5" stroke="#2a78a8" stroke-width="3.4" stroke-linecap="round"/>
<circle cx="1221.0" cy="476.5" r="1.9" fill="#2a78a8"/>
<line x1="1207.8" y1="469.4" x2="1214.8" y2="481.5" stroke="#2a78a8" stroke-width="3.2" stroke-linecap="round"/>
<circle cx="1214.8" cy="481.5" r="1.8" fill="#2a78a8"/>
<line x1="1206.2" y1="470.1" x2="1208.8" y2="482.6" stroke="#2a78a8" stroke-width="3.2" stroke-linecap="round"/>
<circle cx="1208.8" cy="482.6" r="1.8" fill="#2a78a8"/>
<line x1="1202.7" y1="469.7" x2="1197.3" y2="481.9" stroke="#2a78a8" stroke-width="3.2" stroke-linecap="round"/>
<circle cx="1197.3" cy="481.9" r="1.8" fill="#2a78a8"/>
<line x1="1200.8" y1="468.3" x2="1195.4" y2="473.1" stroke="#2a78a8" stroke-width="3.2" stroke-linecap="round"/>
<circle cx="1195.4" cy="473.1" r="1.8" fill="#2a78a8"/>
<line x1="1199.8" y1="466.9" x2="1187.2" y2="472.8" stroke="#2a78a8" stroke-width="3.2" stroke-linecap="round"/>
<circle cx="1187.2" cy="472.8" r="1.8" fill="#2a78a8"/>
<line x1="1199.4" y1="463.3" x2="1187.7" y2="460.8" stroke="#2a78a8" stroke-width="3.2" stroke-linecap="round"/>
<circle cx="1187.7" cy="460.8" r="1.8" fill="#2a78a8"/>
<line x1="1200.0" y1="461.8" x2="1193.1" y2="458.2" stroke="#2a78a8" stroke-width="3.2" stroke-linecap="round"/>
<circle cx="1193.1" cy="458.2" r="1.8" fill="#2a78a8"/>
<circle cx="1205" cy="464.5" r="10.3" fill="#2a78a8"/>
<line x1="1201.0" y1="460.4" x2="1190.8" y2="449.8" stroke="#43a6da" stroke-width="1.8" stroke-linecap="round"/>
<circle cx="1190.8" cy="449.8" r="1.1" fill="#43a6da"/>
<line x1="1204.7" y1="458.8" x2="1204.1" y2="447.7" stroke="#43a6da" stroke-width="1.6" stroke-linecap="round"/>
<circle cx="1204.1" cy="447.7" r="1.0" fill="#43a6da"/>
<line x1="1207.1" y1="459.2" x2="1210.5" y2="451.0" stroke="#43a6da" stroke-width="1.6" stroke-linecap="round"/>
<circle cx="1210.5" cy="451.0" r="1.0" fill="#43a6da"/>
<line x1="1209.6" y1="461.1" x2="1219.8" y2="453.4" stroke="#43a6da" stroke-width="1.8" stroke-linecap="round"/>
<circle cx="1219.8" cy="453.4" r="1.1" fill="#43a6da"/>
<line x1="1210.7" y1="464.9" x2="1224.0" y2="465.8" stroke="#43a6da" stroke-width="1.8" stroke-linecap="round"/>
<circle cx="1224.0" cy="465.8" r="1.1" fill="#43a6da"/>
<line x1="1209.6" y1="467.9" x2="1221.0" y2="476.5" stroke="#43a6da" stroke-width="1.8" stroke-linecap="round"/>
<circle cx="1221.0" cy="476.5" r="1.1" fill="#43a6da"/>
<line x1="1207.8" y1="469.4" x2="1214.8" y2="481.5" stroke="#43a6da" stroke-width="1.6" stroke-linecap="round"/>
<circle cx="1214.8" cy="481.5" r="1.0" fill="#43a6da"/>
<line x1="1206.2" y1="470.1" x2="1208.8" y2="482.6" stroke="#43a6da" stroke-width="1.6" stroke-linecap="round"/>
<circle cx="1208.8" cy="482.6" r="1.0" fill="#43a6da"/>
<line x1="1202.7" y1="469.7" x2="1197.3" y2="481.9" stroke="#43a6da" stroke-width="1.6" stroke-linecap="round"/>
<circle cx="1197.3" cy="481.9" r="1.0" fill="#43a6da"/>
<line x1="1200.8" y1="468.3" x2="1195.4" y2="473.1" stroke="#43a6da" stroke-width="1.6" stroke-linecap="round"/>
<circle cx="1195.4" cy="473.1" r="1.0" fill="#43a6da"/>
<line x1="1199.8" y1="466.9" x2="1187.2" y2="472.8" stroke="#43a6da" stroke-width="1.6" stroke-linecap="round"/>
<circle cx="1187.2" cy="472.8" r="1.0" fill="#43a6da"/>
<line x1="1199.4" y1="463.3" x2="1187.7" y2="460.8" stroke="#43a6da" stroke-width="1.6" stroke-linecap="round"/>
<circle cx="1187.7" cy="460.8" r="1.0" fill="#43a6da"/>
<line x1="1200.0" y1="461.8" x2="1193.1" y2="458.2" stroke="#43a6da" stroke-width="1.6" stroke-linecap="round"/>
<circle cx="1193.1" cy="458.2" r="1.0" fill="#43a6da"/>
<circle cx="1205" cy="464.5" r="9.5" fill="#43a6da"/>
<path d="M1205.0,459.8 C1207.8,459.8 1209.8,462.1 1209.8,464.7 C1209.8,467.6 1207.4,469.2 1204.5,469.2 C1202.2,469.2 1200.2,467.1 1200.2,464.5 C1201.0,463.3 1202.9,464.0 1203.3,462.6 C1203.6,461.4 1203.8,459.8 1205.0,459.8 Z" fill="#5cbbea" stroke="#2a88c0" stroke-width="1"/>
<line x1="1117.3" y1="584.3" x2="1112.0" y2="562.9" stroke="#2a78a8" stroke-width="4.5" stroke-linecap="round"/>
<circle cx="1112.0" cy="562.9" r="2.5" fill="#2a78a8"/>
<line x1="1123.6" y1="585.0" x2="1131.1" y2="570.3" stroke="#2a78a8" stroke-width="4.3" stroke-linecap="round"/>
<circle cx="1131.1" cy="570.3" r="2.5" fill="#2a78a8"/>
<line x1="1126.6" y1="587.5" x2="1136.9" y2="579.4" stroke="#2a78a8" stroke-width="3.7" stroke-linecap="round"/>
<circle cx="1136.9" cy="579.4" r="2.1" fill="#2a78a8"/>
<line x1="1128.4" y1="591.9" x2="1147.3" y2="589.6" stroke="#2a78a8" stroke-width="4.5" stroke-linecap="round"/>
<circle cx="1147.3" cy="589.6" r="2.5" fill="#2a78a8"/>
<line x1="1127.0" y1="598.0" x2="1143.5" y2="609.2" stroke="#2a78a8" stroke-width="4.5" stroke-linecap="round"/>
<circle cx="1143.5" cy="609.2" r="2.5" fill="#2a78a8"/>
<line x1="1123.0" y1="601.3" x2="1131.4" y2="620.9" stroke="#2a78a8" stroke-width="4.5" stroke-linecap="round"/>
<circle cx="1131.4" cy="620.9" r="2.5" fill="#2a78a8"/>
<line x1="1119.5" y1="602.0" x2="1119.5" y2="622.8" stroke="#2a78a8" stroke-width="4.3" stroke-linecap="round"/>
<circle cx="1119.5" cy="622.8" r="2.5" fill="#2a78a8"/>
<line x1="1116.7" y1="601.6" x2="1110.8" y2="619.7" stroke="#2a78a8" stroke-width="4.3" stroke-linecap="round"/>
<circle cx="1110.8" cy="619.7" r="2.5" fill="#2a78a8"/>
<line x1="1112.2" y1="598.3" x2="1096.1" y2="610.0" stroke="#2a78a8" stroke-width="4.3" stroke-linecap="round"/>
<circle cx="1096.1" cy="610.0" r="2.5" fill="#2a78a8"/>
<line x1="1110.7" y1="594.9" x2="1100.4" y2="597.1" stroke="#2a78a8" stroke-width="3.5" stroke-linecap="round"/>
<circle cx="1100.4" cy="597.1" r="2.0" fill="#2a78a8"/>
<line x1="1110.5" y1="592.2" x2="1089.9" y2="590.4" stroke="#2a78a8" stroke-width="4.3" stroke-linecap="round"/>
<circle cx="1089.9" cy="590.4" r="2.5" fill="#2a78a8"/>
<line x1="1112.8" y1="587.0" x2="1099.5" y2="575.0" stroke="#2a78a8" stroke-width="4.3" stroke-linecap="round"/>
<circle cx="1099.5" cy="575.0" r="2.5" fill="#2a78a8"/>
<line x1="1114.7" y1="585.4" x2="1108.7" y2="575.7" stroke="#2a78a8" stroke-width="3.7" stroke-linecap="round"/>
<circle cx="1108.7" cy="575.7" r="2.1" fill="#2a78a8"/>
<circle cx="1119.5" cy="593" r="15.9" fill="#2a78a8"/>
<line x1="1117.3" y1="584.3" x2="1112.0" y2="562.9" stroke="#43a6da" stroke-width="2.7" stroke-linecap="round"/>
<circle cx="1112.0" cy="562.9" r="1.6" fill="#43a6da"/>
<line x1="1123.6" y1="585.0" x2="1131.1" y2="570.3" stroke="#43a6da" stroke-width="2.5" stroke-linecap="round"/>
<circle cx="1131.1" cy="570.3" r="1.6" fill="#43a6da"/>
<line x1="1126.6" y1="587.5" x2="1136.9" y2="579.4" stroke="#43a6da" stroke-width="1.9" stroke-linecap="round"/>
<circle cx="1136.9" cy="579.4" r="1.2" fill="#43a6da"/>
<line x1="1128.4" y1="591.9" x2="1147.3" y2="589.6" stroke="#43a6da" stroke-width="2.7" stroke-linecap="round"/>
<circle cx="1147.3" cy="589.6" r="1.6" fill="#43a6da"/>
<line x1="1127.0" y1="598.0" x2="1143.5" y2="609.2" stroke="#43a6da" stroke-width="2.7" stroke-linecap="round"/>
<circle cx="1143.5" cy="609.2" r="1.6" fill="#43a6da"/>
<line x1="1123.0" y1="601.3" x2="1131.4" y2="620.9" stroke="#43a6da" stroke-width="2.7" stroke-linecap="round"/>
<circle cx="1131.4" cy="620.9" r="1.6" fill="#43a6da"/>
<line x1="1119.5" y1="602.0" x2="1119.5" y2="622.8" stroke="#43a6da" stroke-width="2.5" stroke-linecap="round"/>
<circle cx="1119.5" cy="622.8" r="1.6" fill="#43a6da"/>
<line x1="1116.7" y1="601.6" x2="1110.8" y2="619.7" stroke="#43a6da" stroke-width="2.5" stroke-linecap="round"/>
<circle cx="1110.8" cy="619.7" r="1.6" fill="#43a6da"/>
<line x1="1112.2" y1="598.3" x2="1096.1" y2="610.0" stroke="#43a6da" stroke-width="2.5" stroke-linecap="round"/>
<circle cx="1096.1" cy="610.0" r="1.6" fill="#43a6da"/>
<line x1="1110.7" y1="594.9" x2="1100.4" y2="597.1" stroke="#43a6da" stroke-width="1.7" stroke-linecap="round"/>
<circle cx="1100.4" cy="597.1" r="1.1" fill="#43a6da"/>
<line x1="1110.5" y1="592.2" x2="1089.9" y2="590.4" stroke="#43a6da" stroke-width="2.5" stroke-linecap="round"/>
<circle cx="1089.9" cy="590.4" r="1.6" fill="#43a6da"/>
<line x1="1112.8" y1="587.0" x2="1099.5" y2="575.0" stroke="#43a6da" stroke-width="2.5" stroke-linecap="round"/>
<circle cx="1099.5" cy="575.0" r="1.6" fill="#43a6da"/>
<line x1="1114.7" y1="585.4" x2="1108.7" y2="575.7" stroke="#43a6da" stroke-width="1.9" stroke-linecap="round"/>
<circle cx="1108.7" cy="575.7" r="1.2" fill="#43a6da"/>
<circle cx="1119.5" cy="593" r="15" fill="#43a6da"/>
<path d="M1119.5,585.5 C1124.0,585.5 1127.0,589.2 1127.0,593.4 C1127.0,597.9 1123.2,600.5 1118.8,600.5 C1115.0,600.5 1112.0,597.1 1112.0,593.0 C1113.1,591.1 1116.1,592.2 1116.9,590.0 C1117.2,588.1 1117.6,585.5 1119.5,585.5 Z" fill="#5cbbea" stroke="#2a88c0" stroke-width="1"/>
<line x1="1119" y1="528" x2="1119" y2="552" stroke="#4f9c8a" stroke-width="5"/>
<line x1="1119" y1="528" x2="1119" y2="552" stroke="#8ccdbb" stroke-width="3"/>
<path d="M1111,548 Q1119,556 1127,548" fill="none" stroke="#4f9c8a" stroke-width="3"/>
<rect x="1113.5" y="552" width="5" height="30" rx="1.5" fill="#2c4878"/>
<rect x="1120" y="552" width="5" height="30" rx="1.5" fill="#2c4878"/>
<rect x="1116" y="553" width="6" height="6" fill="#c0504a"/>
<line x1="1182" y1="560" x2="1162" y2="572" stroke="#4f9c8a" stroke-width="5"/>
<line x1="1182" y1="560" x2="1162" y2="572" stroke="#8ccdbb" stroke-width="3"/>
<path d="M1137,578 L1162,565 L1167,575 L1142,590 Z" fill="#8a3c78"/>
<path d="M1142,582 L1162,570" stroke="#b06aa0" stroke-width="1.2"/>
<circle cx="1118.5" cy="513" r="18" fill="#bfdcf2" stroke="#6a9cc4" stroke-width="1.2"/>
<circle cx="1121" cy="510.5" r="12.4" fill="url(#bnuc)" stroke="#3a78a8" stroke-width="1.2"/>
<circle cx="1196" cy="549" r="18.5" fill="#a9d3b0" stroke="#5a9a6a" stroke-width="1.2"/>
<circle cx="1198" cy="546.5" r="13" fill="url(#gnuc)" stroke="#1e7a44" stroke-width="1.2"/>
<line x1="946" y1="449" x2="945" y2="420" stroke="#4f9c8a" stroke-width="7" stroke-linecap="round"/>
<line x1="946" y1="449" x2="945" y2="420" stroke="#8ccdbb" stroke-width="5" stroke-linecap="round"/>
<path d="M940.0,420.2 Q944.9,416.0 950.0,419.8" fill="none" stroke="#4f9c8a" stroke-width="4.5" stroke-linecap="round"/>
<path d="M940.0,420.2 Q944.9,416.0 950.0,419.8" fill="none" stroke="#8ccdbb" stroke-width="2.5" stroke-linecap="round"/>
<circle cx="944.9483065862403" cy="418.5008910009696" r="4.6" fill="url(#gy)" stroke="#d9b300" stroke-width="1"/>
<line x1="931" y1="458" x2="908" y2="442" stroke="#4f9c8a" stroke-width="7" stroke-linecap="round"/>
<line x1="931" y1="458" x2="908" y2="442" stroke="#8ccdbb" stroke-width="5" stroke-linecap="round"/>
<path d="M905.1,446.1 Q904.7,439.7 910.9,437.9" fill="none" stroke="#4f9c8a" stroke-width="4.5" stroke-linecap="round"/>
<path d="M905.1,446.1 Q904.7,439.7 910.9,437.9" fill="none" stroke="#8ccdbb" stroke-width="2.5" stroke-linecap="round"/>
<circle cx="906.7686421973218" cy="441.1434032677021" r="4.6" fill="url(#gy)" stroke="#d9b300" stroke-width="1"/>
<line x1="938" y1="486" x2="934" y2="508" stroke="#4f9c8a" stroke-width="5"/>
<line x1="938" y1="486" x2="934" y2="508" stroke="#8ccdbb" stroke-width="3"/>
<path d="M928,505 Q935,512 941,507" fill="none" stroke="#4f9c8a" stroke-width="2.5"/>
<rect x="929.5" y="509" width="7" height="19" fill="#c9735e"/>
<line x1="933" y1="509" x2="933" y2="528" stroke="#e8a890" stroke-width="1"/>
<circle cx="946.2" cy="467.9" r="20.5" fill="#fbdcc5" stroke="#b88a6a" stroke-width="1.2"/>
<circle cx="948.5" cy="464.5" r="14" fill="url(#onuc)" stroke="#d99262" stroke-width="1.2"/>
<circle cx="930.3" cy="547.4" r="20.5" fill="#bfdcf2" stroke="#6a9cc4" stroke-width="1.2"/>
<circle cx="932.5" cy="544" r="14" fill="url(#bnuc)" stroke="#3a78a8" stroke-width="1.2"/>
<circle cx="971" cy="637" r="21" fill="#a9d3b0" stroke="#5a9a6a" stroke-width="1.2"/>
<circle cx="973.5" cy="633.5" r="14.3" fill="url(#gnuc)" stroke="#1e7a44" stroke-width="1.2"/>
<g transform="translate(849.4,449) rotate(20)"><path d="M0,6 L0,0 M0,0 L-4.5,-4.5 M0,0 L4.5,-4.5" stroke="#6e4842" stroke-width="3" stroke-linecap="round" fill="none"/></g>
<g transform="translate(817.6,461.3) rotate(-60)"><path d="M0,6 L0,0 M0,0 L-4.5,-4.5 M0,0 L4.5,-4.5" stroke="#6e4842" stroke-width="3" stroke-linecap="round" fill="none"/></g>
<g transform="translate(836.4,469.4) rotate(10)"><path d="M0,6 L0,0 M0,0 L-4.5,-4.5 M0,0 L4.5,-4.5" stroke="#6e4842" stroke-width="3" stroke-linecap="round" fill="none"/></g>
<g transform="translate(864.7,472.8) rotate(60)"><path d="M0,6 L0,0 M0,0 L-4.5,-4.5 M0,0 L4.5,-4.5" stroke="#6e4842" stroke-width="3" stroke-linecap="round" fill="none"/></g>
<g transform="translate(812.4,481.2) rotate(-50)"><path d="M0,6 L0,0 M0,0 L-4.5,-4.5 M0,0 L4.5,-4.5" stroke="#6e4842" stroke-width="3" stroke-linecap="round" fill="none"/></g>
<g transform="translate(846.5,490.8) rotate(30)"><path d="M0,6 L0,0 M0,0 L-4.5,-4.5 M0,0 L4.5,-4.5" stroke="#6e4842" stroke-width="3" stroke-linecap="round" fill="none"/></g>
<g transform="translate(823,496) rotate(-20)"><path d="M0,6 L0,0 M0,0 L-4.5,-4.5 M0,0 L4.5,-4.5" stroke="#6e4842" stroke-width="3" stroke-linecap="round" fill="none"/></g>
<g transform="translate(866.5,496) rotate(0)"><path d="M0,6 L0,0 M0,0 L-4.5,-4.5 M0,0 L4.5,-4.5" stroke="#6e4842" stroke-width="3" stroke-linecap="round" fill="none"/></g>
<path d="M704.5,572.8 C702.6,566.8 701.4,565.8 703.7,560.4 C706.1,555.1 707.7,555.2 713.3,552.7 C718.9,550.2 719.0,549.9 724.8,551.1 C730.5,552.3 731.6,552.6 734.8,557.2 C738.0,561.8 737.0,562.6 736.7,568.5 C736.3,574.3 737.1,574.8 733.5,579.3 C729.9,583.7 729.2,584.1 723.2,585.1 C717.2,586.1 716.1,586.3 711.2,583.0 C706.2,579.7 706.5,578.8 704.5,572.8Z" fill="#c3c8d5" stroke="#4c505a" stroke-width="1.3"/>
<circle cx="722" cy="567.7" r="4.2" fill="#b3b9c8" stroke="#98a0b0" stroke-width="1.6"/>
<circle cx="722" cy="567.7" r="1.8" fill="#d6dae4"/>
<path d="M703.2,590.8 C699.5,595.4 699.4,594.6 693.5,596.8 C687.6,599.0 686.9,600.8 681.2,598.9 C675.5,596.9 674.2,595.2 672.1,589.5 C670.0,583.8 672.1,583.9 673.4,577.4 C674.8,570.8 672.7,569.3 677.2,565.0 C681.7,560.7 683.7,560.5 690.3,561.2 C697.0,562.0 697.4,562.9 701.9,567.7 C706.5,572.5 707.0,573.1 707.4,579.2 C707.7,585.4 706.9,586.1 703.2,590.8Z" fill="#c3c8d5" stroke="#4c505a" stroke-width="1.3"/>
<circle cx="690" cy="581.2" r="4.2" fill="#b3b9c8" stroke="#98a0b0" stroke-width="1.6"/>
<circle cx="690" cy="581.2" r="1.8" fill="#d6dae4"/>
<path d="M696.2,571.7 C690.9,574.8 691.1,576.7 685.9,576.1 C680.8,575.5 680.5,573.8 676.8,569.5 C673.2,565.2 672.7,565.3 672.2,560.0 C671.7,554.7 671.8,553.7 675.1,549.6 C678.4,545.4 679.0,545.9 684.4,544.4 C689.9,542.9 690.4,541.9 695.5,544.0 C700.5,546.2 700.6,547.0 703.3,552.5 C706.0,557.9 707.4,559.3 705.5,564.4 C703.6,569.5 701.4,568.5 696.2,571.7Z" fill="#c3c8d5" stroke="#4c505a" stroke-width="1.3"/>
<circle cx="688.9" cy="559.1" r="4.2" fill="#b3b9c8" stroke="#98a0b0" stroke-width="1.6"/>
<circle cx="688.9" cy="559.1" r="1.8" fill="#d6dae4"/>
<path d="M730.6,553.3 C731.4,547.4 732.0,547.2 736.4,543.0 C740.8,538.9 741.2,538.1 747.0,537.8 C752.8,537.5 753.6,538.2 758.1,541.9 C762.5,545.6 761.8,545.8 763.7,551.7 C765.5,557.6 767.2,558.3 765.0,564.0 C762.8,569.6 761.4,570.5 755.5,572.9 C749.6,575.3 748.7,575.1 742.7,573.0 C736.7,570.9 736.3,570.4 733.1,565.2 C729.8,559.9 729.7,559.2 730.6,553.3Z" fill="#c3c8d5" stroke="#4c505a" stroke-width="1.3"/>
<circle cx="749" cy="555.4" r="4.2" fill="#b3b9c8" stroke="#98a0b0" stroke-width="1.6"/>
<circle cx="749" cy="555.4" r="1.8" fill="#d6dae4"/>
<path d="M719,525 C724,528 733,535 737,542 C741,550 736,558 728,561 C720,563 708,562 702,558 C698,553 700,545 704,538 C708,532 714,526 719,525 Z" fill="#c3c8d5" stroke="#4c505a" stroke-width="1.3"/>
<circle cx="720.8" cy="543.2" r="4.2" fill="#b3b9c8" stroke="#98a0b0" stroke-width="1.6"/>
<circle cx="720.8" cy="543.2" r="1.8" fill="#d6dae4"/>
<path d="M681.3,593.6 C681.9,599.9 683.4,601.6 679.7,606.3 C676.0,610.9 674.4,609.9 667.6,611.1 C660.9,612.3 659.7,614.0 654.5,610.9 C649.3,607.7 649.4,605.6 648.1,599.4 C646.7,593.3 647.5,593.8 649.4,587.9 C651.4,582.0 650.4,580.9 655.4,577.4 C660.3,573.8 662.1,573.2 668.0,574.6 C673.9,576.0 674.1,577.6 677.7,582.6 C681.2,587.7 680.8,587.3 681.3,593.6Z" fill="#c3c8d5" stroke="#4c505a" stroke-width="1.3"/>
<circle cx="665.6" cy="593.5" r="4.2" fill="#b3b9c8" stroke="#98a0b0" stroke-width="1.6"/>
<circle cx="665.6" cy="593.5" r="1.8" fill="#d6dae4"/>
<path d="M687.9,628.0 C685.7,632.8 685.8,634.3 680.9,636.3 C676.1,638.3 674.4,637.8 669.8,635.3 C665.2,632.9 665.8,631.7 663.6,627.0 C661.5,622.3 660.9,622.3 661.8,617.7 C662.7,613.2 663.4,612.7 667.1,609.9 C670.9,607.1 670.8,607.5 675.9,607.1 C681.0,606.7 682.7,605.4 686.2,608.4 C689.8,611.5 688.8,613.2 689.3,618.4 C689.7,623.6 690.1,623.2 687.9,628.0Z" fill="#c3c8d5" stroke="#4c505a" stroke-width="1.3"/>
<circle cx="676.6" cy="620.5" r="4.2" fill="#b3b9c8" stroke="#98a0b0" stroke-width="1.6"/>
<circle cx="676.6" cy="620.5" r="1.8" fill="#d6dae4"/>
<path d="M704.4,584.6 C706.6,579.2 707.6,579.6 713.0,576.4 C718.4,573.1 719.2,571.2 724.7,572.4 C730.3,573.5 729.8,575.7 733.8,580.7 C737.8,585.8 739.8,585.8 739.6,591.4 C739.5,597.0 737.5,597.2 733.3,601.8 C729.0,606.3 729.3,607.5 723.7,608.5 C718.1,609.4 717.3,608.5 712.3,605.3 C707.3,602.1 707.0,602.0 704.9,596.5 C702.8,590.9 702.3,589.9 704.4,584.6Z" fill="#c3c8d5" stroke="#4c505a" stroke-width="1.3"/>
<circle cx="722" cy="591" r="4.2" fill="#b3b9c8" stroke="#98a0b0" stroke-width="1.6"/>
<circle cx="722" cy="591" r="1.8" fill="#d6dae4"/>
<path d="M768.4,580.3 C769.0,586.4 767.7,586.1 764.6,591.6 C761.6,597.2 762.2,599.2 757.0,601.1 C751.9,602.9 750.8,601.0 745.3,598.6 C739.7,596.2 739.7,596.9 736.2,592.1 C732.8,587.4 731.6,586.5 732.3,580.7 C733.0,574.9 734.2,573.7 739.1,570.4 C743.9,567.1 744.1,568.7 750.3,568.3 C756.6,568.0 757.7,565.8 762.5,569.0 C767.4,572.2 767.9,574.3 768.4,580.3Z" fill="#c3c8d5" stroke="#4c505a" stroke-width="1.3"/>
<circle cx="751.5" cy="583.7" r="4.2" fill="#b3b9c8" stroke="#98a0b0" stroke-width="1.6"/>
<circle cx="751.5" cy="583.7" r="1.8" fill="#d6dae4"/>
<path d="M780.6,583.6 C773.7,585.4 772.6,587.2 766.7,584.3 C760.9,581.5 761.0,579.4 758.7,572.9 C756.4,566.3 756.0,565.8 758.1,559.8 C760.2,553.8 761.0,553.6 766.5,550.3 C771.9,547.0 771.8,547.1 778.4,547.4 C785.0,547.7 786.7,546.8 791.2,551.3 C795.6,555.8 794.6,557.2 795.0,564.2 C795.5,571.2 796.6,572.4 792.7,577.6 C788.9,582.7 787.6,581.8 780.6,583.6Z" fill="#c3c8d5" stroke="#4c505a" stroke-width="1.3"/>
<circle cx="777.3" cy="565.3" r="4.2" fill="#b3b9c8" stroke="#98a0b0" stroke-width="1.6"/>
<circle cx="777.3" cy="565.3" r="1.8" fill="#d6dae4"/>
<path d="M740.8,619.6 C736.4,615.6 734.7,615.5 734.0,610.1 C733.4,604.7 735.0,604.0 738.4,599.3 C741.9,594.7 741.7,594.5 747.1,592.6 C752.5,590.7 754.0,589.8 758.7,592.3 C763.5,594.7 763.0,596.5 765.0,601.7 C766.9,606.8 766.7,606.2 766.0,611.7 C765.2,617.2 766.2,618.7 762.1,622.4 C758.0,626.0 756.3,626.1 750.6,625.4 C744.9,624.7 745.2,623.7 740.8,619.6Z" fill="#c3c8d5" stroke="#4c505a" stroke-width="1.3"/>
<circle cx="752.7" cy="608.2" r="4.2" fill="#b3b9c8" stroke="#98a0b0" stroke-width="1.6"/>
<circle cx="752.7" cy="608.2" r="1.8" fill="#d6dae4"/>
<path d="M769.1,637.8 C763.7,638.3 762.8,639.1 758.2,636.0 C753.5,632.9 752.1,631.6 751.6,626.1 C751.0,620.7 753.1,620.9 756.1,615.6 C759.1,610.4 757.9,608.8 762.9,606.4 C767.9,603.9 769.5,604.3 774.9,606.6 C780.3,608.8 780.6,609.7 783.2,614.7 C785.7,619.8 785.8,620.5 784.5,625.7 C783.2,630.8 782.5,630.8 778.4,634.1 C774.2,637.3 774.4,637.3 769.1,637.8Z" fill="#c3c8d5" stroke="#4c505a" stroke-width="1.3"/>
<circle cx="770" cy="623" r="4.2" fill="#b3b9c8" stroke="#98a0b0" stroke-width="1.6"/>
<circle cx="770" cy="623" r="1.8" fill="#d6dae4"/>
<path d="M715.8,615.8 C713.8,622.0 711.6,621.1 705.8,625.1 C700.0,629.0 700.0,631.0 693.9,630.6 C687.8,630.2 688.0,628.3 682.9,623.6 C677.8,618.9 675.9,619.2 674.9,612.9 C673.9,606.5 675.1,605.1 679.2,599.9 C683.3,594.6 684.1,594.7 690.3,593.3 C696.5,592.0 696.3,592.4 702.4,594.7 C708.5,597.0 709.7,596.3 713.3,601.9 C716.8,607.5 717.8,609.6 715.8,615.8Z" fill="#c3c8d5" stroke="#4c505a" stroke-width="1.3"/>
<circle cx="696.3" cy="610.7" r="4.2" fill="#b3b9c8" stroke="#98a0b0" stroke-width="1.6"/>
<circle cx="696.3" cy="610.7" r="1.8" fill="#d6dae4"/>
<path d="M741.3,628.7 C739.0,634.3 739.2,635.1 733.8,638.2 C728.4,641.4 727.1,642.1 721.0,640.6 C714.9,639.0 714.1,637.8 710.9,632.4 C707.7,627.0 708.7,626.9 709.0,620.3 C709.3,613.7 707.8,611.8 711.9,607.8 C716.1,603.7 718.3,604.8 724.5,605.0 C730.6,605.3 730.3,605.4 735.1,608.6 C739.9,611.9 740.7,611.9 742.4,617.2 C744.1,622.6 743.6,623.1 741.3,628.7Z" fill="#c3c8d5" stroke="#4c505a" stroke-width="1.3"/>
<circle cx="727" cy="621.7" r="4.2" fill="#b3b9c8" stroke="#98a0b0" stroke-width="1.6"/>
<circle cx="727" cy="621.7" r="1.8" fill="#d6dae4"/>
<path d="M761.5,601.7 C759.8,595.5 759.2,595.7 761.1,589.9 C762.9,584.1 763.1,583.4 768.4,580.0 C773.7,576.6 775.0,575.7 781.0,577.0 C787.0,578.3 786.9,579.9 790.8,585.0 C794.8,590.1 795.2,589.6 795.9,596.1 C796.5,602.7 797.3,603.9 793.3,609.5 C789.4,615.0 787.9,615.9 781.0,616.9 C774.2,617.8 772.7,617.1 767.5,613.0 C762.3,609.0 763.2,607.9 761.5,601.7Z" fill="#c3c8d5" stroke="#4c505a" stroke-width="1.3"/>
<circle cx="778.5" cy="596" r="4.2" fill="#b3b9c8" stroke="#98a0b0" stroke-width="1.6"/>
<circle cx="778.5" cy="596" r="1.8" fill="#d6dae4"/>
<path d="M1054,303.6 Q1083,289 1111,291.2" fill="none" stroke="#111" stroke-width="1.5"/>
<path d="M1119.0,290.6 L1109.2,295.1 L1111.5,291.0 L1108.8,287.1 Z" fill="#111"/>
<path d="M1171,353 L1165,393" fill="none" stroke="#111" stroke-width="1.5"/>
<path d="M1163.8,401.0 L1161.2,390.5 L1164.8,393.6 L1169.2,391.7 Z" fill="#111"/>
<path d="M1056,463.6 Q1022,454 988,459" fill="none" stroke="#111" stroke-width="1.5"/>
<path d="M982.0,459.4 L991.9,455.1 L989.5,459.1 L992.1,463.0 Z" fill="#111"/>
<path d="M915.8,469.4 L895,475" fill="none" stroke="#111" stroke-width="1.5"/>
<path d="M889.5,476.6 L898.0,470.0 L896.7,474.5 L900.2,477.7 Z" fill="#111"/>
<path d="M798.2,508.5 L782,521.6" fill="none" stroke="#111" stroke-width="1.5"/>
<path d="M776.6,526.2 L781.9,516.8 L782.4,521.5 L786.9,523.0 Z" fill="#111"/>
<path d="M1061,538.5 L975,544.2" fill="none" stroke="#111" stroke-width="1.5"/>
<path d="M969.0,544.6 L978.8,540.1 L976.5,544.2 L979.2,548.1 Z" fill="#111"/>
<path d="M894.2,556 Q860,561 829,571" fill="none" stroke="#111" stroke-width="1.5"/>
<path d="M823.0,573.4 L831.0,566.2 L830.0,570.8 L833.8,573.7 Z" fill="#111"/>
<path d="M1080,611.7 Q1052,630 1023,635" fill="none" stroke="#111" stroke-width="1.5"/>
<path d="M1017.0,636.4 L1026.3,631.0 L1024.4,635.4 L1027.5,639.0 Z" fill="#111"/>
<path d="M925.8,642.9 Q872,641 826,631.5" fill="none" stroke="#111" stroke-width="1.5"/>
<path d="M819.5,630.2 L830.0,628.0 L826.9,631.5 L828.7,635.9 Z" fill="#111"/>
<path d="M998,268 L1009,286" fill="none" stroke="#111" stroke-width="1.6" stroke-dasharray="3.5 2.5"/>
<path d="M1013.0,293.0 L1005.4,287.1 L1009.5,287.2 L1011.4,283.5 Z" fill="#111"/>
<path d="M961,291 L976,302" fill="none" stroke="#111" stroke-width="1.6" stroke-dasharray="3.5 2.5"/>
<path d="M982.0,306.5 L972.7,303.9 L976.6,302.4 L976.9,298.3 Z" fill="#111"/>
<path d="M938,322 L959,330" fill="none" stroke="#111" stroke-width="1.6" stroke-dasharray="3.5 2.5"/>
<path d="M966.0,333.0 L956.3,332.9 L959.7,330.5 L959.0,326.4 Z" fill="#111"/>
<path d="M897,271 L939,244" stroke="#222" stroke-width="1.3" stroke-dasharray="5 3" fill="none"/>
<path d="M937,378 L963,392" stroke="#222" stroke-width="1.3" stroke-dasharray="5 3" fill="none"/>
<line x1="596.8" y1="298.5" x2="596.8" y2="279" stroke="#111" stroke-width="1.6"/>
<path d="M596.8,268 L592,281 L601.6,281 Z" fill="#111"/>
<text x="633.4" y="161.4" font-size="18.5" fill="#1a1a1a" font-weight="normal" font-style="normal" text-anchor="start" textLength="31.2" lengthAdjust="spacingAndGlyphs" stroke="#1a1a1a" stroke-width="0.35" >NIR</text>
<text x="606.8" y="183" font-size="18.8" fill="#1a1a1a" font-weight="normal" font-style="normal" text-anchor="start" textLength="83.8" lengthAdjust="spacingAndGlyphs" stroke="#1a1a1a" stroke-width="0.35" >Irradiation</text>
<text x="752.5" y="247.9" font-size="19" fill="#e0282c" font-weight="bold" font-style="normal" text-anchor="start" textLength="94" lengthAdjust="spacingAndGlyphs" stroke="#e0282c" stroke-width="0.35" >Local heat</text>
<text x="1212" y="231.2" font-size="22" fill="#1a1a1a" font-weight="normal" font-style="normal" text-anchor="start" textLength="45.4" lengthAdjust="spacingAndGlyphs" stroke="#1a1a1a" stroke-width="0.35" >Skin</text>
<text x="603.9" y="296.9" font-size="20" fill="#1a1a1a" font-weight="normal" font-style="normal" text-anchor="start" textLength="94" lengthAdjust="spacingAndGlyphs" stroke="#1a1a1a" stroke-width="0.35" >Temperature</text>
<text x="940.6" y="247.3" font-size="19.4" fill="#1a1a1a" font-weight="normal" font-style="normal" text-anchor="start" textLength="124.7" lengthAdjust="spacingAndGlyphs" stroke="#1a1a1a" stroke-width="0.35" >Tumor antigen</text>
<text x="965.5" y="371" font-size="19.5" fill="#1a1a1a" font-weight="normal" font-style="normal" text-anchor="start" textLength="125.8" lengthAdjust="spacingAndGlyphs" stroke="#1a1a1a" stroke-width="0.35" >Immature DCs</text>
<text transform="translate(1045.8,289.7) rotate(-7)" font-size="17.6" fill="#1a1a1a" textLength="83" lengthAdjust="spacingAndGlyphs">Maturation</text>
<text x="1134.8" y="338.3" font-size="19.3" fill="#1a1a1a" font-weight="normal" font-style="normal" text-anchor="start" textLength="103" lengthAdjust="spacingAndGlyphs" stroke="#1a1a1a" stroke-width="0.35" >Mature DCs</text>
<text x="1181" y="382.3" font-size="17.5" fill="#1a1a1a" font-weight="normal" font-style="normal" text-anchor="start" textLength="71.8" lengthAdjust="spacingAndGlyphs" stroke="#1a1a1a" stroke-width="0.35" >Migration</text>
<text x="852.1" y="405.9" font-size="19.8" fill="#1a1a1a" font-weight="normal" font-style="normal" text-anchor="start" textLength="183.8" lengthAdjust="spacingAndGlyphs" stroke="#1a1a1a" stroke-width="0.35" >Danger signal (ROS)</text>
<text x="952.8" y="507" font-size="19.2" fill="#1a1a1a" font-weight="normal" font-style="normal" text-anchor="start" textLength="46.9" lengthAdjust="spacingAndGlyphs" stroke="#1a1a1a" stroke-width="0.35" >B cell</text>
<text x="810.3" y="527.2" font-size="18.6" fill="#1a1a1a" font-weight="normal" font-style="normal" text-anchor="start" textLength="86.7" lengthAdjust="spacingAndGlyphs" stroke="#1a1a1a" stroke-width="0.35" >Antibodies</text>
<text x="892.7" y="593.6" font-size="19.7" fill="#1a1a1a" font-weight="normal" font-style="normal" text-anchor="start" textLength="107" lengthAdjust="spacingAndGlyphs" stroke="#1a1a1a" stroke-width="0.35" >T helper cell</text>
<text x="1071.5" y="490" font-size="17.7" fill="#1a1a1a" font-weight="normal" font-style="normal" text-anchor="start" textLength="101" lengthAdjust="spacingAndGlyphs" stroke="#1a1a1a" stroke-width="0.35" >CD8+ T cells</text>
<text x="1156.4" y="528.3" font-size="17.9" fill="#1a1a1a" font-weight="normal" font-style="normal" text-anchor="start" textLength="102.4" lengthAdjust="spacingAndGlyphs" stroke="#1a1a1a" stroke-width="0.35" >CD4+ T cells</text>
<text x="1161" y="602.8" font-size="15.9" fill="#1a1a1a" font-weight="normal" font-style="normal" text-anchor="start" textLength="89.4" lengthAdjust="spacingAndGlyphs" stroke="#1a1a1a" stroke-width="0.35" >Presentation</text>
<text x="1109" y="667" font-size="19.9" fill="#1a1a1a" font-weight="normal" font-style="normal" text-anchor="start" textLength="108.5" lengthAdjust="spacingAndGlyphs" stroke="#1a1a1a" stroke-width="0.35" >Lymph node</text>
<text x="905.9" y="680.4" font-size="19.6" fill="#1a1a1a" font-weight="normal" font-style="normal" text-anchor="start" textLength="132.4" lengthAdjust="spacingAndGlyphs" stroke="#1a1a1a" stroke-width="0.35" >Cytotoxic T cell</text>
<text x="681.7" y="666.6" font-size="19.6" fill="#1a1a1a" font-weight="normal" font-style="normal" text-anchor="start" textLength="100.7" lengthAdjust="spacingAndGlyphs" stroke="#1a1a1a" stroke-width="0.35" >Tumor cells</text>
<linearGradient id="torso" x1="360" y1="0" x2="432" y2="0" gradientUnits="userSpaceOnUse"><stop offset="0" stop-color="#ffffff"/><stop offset="1" stop-color="#f3f3f3"/></linearGradient>
<path d="M383,171 C388,179 393,185 401,187 C420,192 440,197 452,205 C462,213 467,224 470,238 L432,278 C428,300 424,340 422,380 C422,400 424,410 427,420 L360,420 L360,200 L383,171 Z" fill="url(#torso)"/>
<linearGradient id="armg" x1="0" y1="190" x2="0" y2="300" gradientUnits="userSpaceOnUse"><stop offset="0" stop-color="#f6f6f6"/><stop offset="0.45" stop-color="#f4f4f4"/><stop offset="1" stop-color="#eaeaea"/></linearGradient>
<path d="M401,187 C420,192 440,197 452,205 C462,213 467,224 470,238 C473,258 474,280 476,300 C478,318 480,332 484,348 C488,362 493,372 500,382 C506,392 512,405 518,414 C524,421 530,425 537,427 C541,429 545,430 549,431 C555,435 560,440 565,444 C569,447 575,450 573,454 C572,457 568,457 565,456 C561,453 558,450 555,448 C560,460 566,475 571,487 C573,493 572,498 569,499 C566,500 562,498 560,496 C558,498 555,498 552,496 C549,497 546,495 543,492 C540,488 538,485 536,482 C530,472 526,466 522,460 C516,450 512,441 509,436 C504,428 500,422 495,414 C488,403 478,392 470,381 C462,368 456,358 452,350 C446,336 441,320 438,305 C436,296 434,288 432,278 Z" fill="url(#armg)"/>
<path d="M432,280 C435,295 438,310 442,322 C448,340 456,356 466,372 C476,388 488,402 497,416 C503,426 508,434 512,442 L518,442 C512,430 506,420 500,410 C490,396 480,382 472,368 C462,350 455,334 450,318 C446,304 443,292 440,282 Z" fill="#dadada"/>
<path d="M543,447 C546,441 553,440 558,445 C556,451 548,452 543,447 Z" fill="#d2d2d2"/>
<path d="M383,171 C388,179 393,185 401,187 C420,192 440,197 452,205 C462,213 467,224 470,238 C473,258 474,280 476,300 C478,318 480,332 484,348 C488,362 493,372 500,382 C506,392 512,405 518,414 C524,421 530,425 537,427 C541,429 545,430 549,431 C555,435 560,440 565,444 C569,447 575,450 573,454 C572,457 568,457 565,456 C561,453 558,450 555,448 C560,460 566,475 571,487 C573,493 572,498 569,499 C566,500 562,498 560,496 C558,498 555,498 552,496 C549,497 546,495 543,492 C540,488 538,485 536,482 C530,472 526,466 522,460 C516,450 512,441 509,436 C504,428 500,422 495,414 C488,403 478,392 470,381 C462,368 456,358 452,350 C446,336 441,320 438,305 C436,296 434,288 432,278" fill="none" stroke="#505050" stroke-width="1.1"/>
<path d="M432,278 C428,300 424,340 422,380 C422,400 424,410 427,420" fill="none" stroke="#505050" stroke-width="1.1"/>
<path d="M430,282 C424,283 418,284 411,285" fill="none" stroke="#d0d0d0" stroke-width="2"/>
<path d="M423,327 C421,331 418,335 416,339" fill="none" stroke="#d0d0d0" stroke-width="2"/>
<path d="M560,496 C558,488 554,478 550,468 M552,496 C549,488 546,480 543,472 M569,499 C566,490 562,480 557,468" fill="none" stroke="#8a8a8a" stroke-width="0.8"/>
<path d="M530,452 C533,456 534,460 532,464" fill="none" stroke="#8a8a8a" stroke-width="0.8"/>
<g clip-path="url(#c4)">
<rect x="430" y="230" width="60" height="60" fill="#fbfbf8"/>
<path d="M430,230 L467,230 C469,240 471,250 473,262 C474,270 475,280 476,290 L430,290 Z" fill="#f8f5d6"/>
<circle cx="446" cy="240" r="2.3" fill="#eee27a"/>
<circle cx="452" cy="247" r="2.3" fill="#eee27a"/>
<circle cx="441" cy="250" r="2.3" fill="#eee27a"/>
<circle cx="447" cy="258" r="2.3" fill="#eee27a"/>
<circle cx="440" cy="263" r="2.3" fill="#eee27a"/>
<circle cx="452" cy="265" r="2.3" fill="#eee27a"/>
<circle cx="445" cy="272" r="2.3" fill="#eee27a"/>
<circle cx="455" cy="276" r="2.3" fill="#eee27a"/>
<circle cx="437" cy="256" r="2.3" fill="#eee27a"/>
<circle cx="456" cy="252" r="2.3" fill="#eee27a"/>
<circle cx="450" cy="234" r="2.3" fill="#eee27a"/>
</g>
<path d="M468.5,237 L470.4,247 L456.8,242.8 Z" fill="#4a3b2e"/>
<circle cx="466.2" cy="242.3" r="1.3" fill="#d8c040"/>
<path d="M470.8,250.4 L471.8,258.8 L458.6,255.5 Z" fill="#4a3b2e"/>
<circle cx="468.1" cy="254.9" r="1.3" fill="#d8c040"/>
<path d="M472,263.5 L473,271 L460,268.7 Z" fill="#4a3b2e"/>
<circle cx="469.3" cy="267.7" r="1.3" fill="#d8c040"/>
<path d="M452,205 C462,213 467,224 470,238 C473,258 474,280 476,300" fill="none" stroke="#505050" stroke-width="1.1"/>
<circle cx="458" cy="255.5" r="22" fill="none" stroke="#3a3a3a" stroke-width="1.8" stroke-dasharray="5 4"/>
<g transform="translate(494.3,264) rotate(22)" opacity="0.85"><path d="M3,-6.5 L22,-6.5 A6.5,6.5 0 0 1 22,6.5 L3,6.5 Z" fill="#eed5b8"/><rect x="-3.5" y="-19" width="7" height="38" fill="#f1dcc2"/></g>
<path d="M584,57 L457.6,234" stroke="#2a2a2a" stroke-width="1.5" stroke-dasharray="7 5" fill="none"/>
<path d="M459,278 L584,588" stroke="#2a2a2a" stroke-width="1.5" stroke-dasharray="7 5" fill="none"/>
<path d="M234.5,171 L259.5,171 L250.5,213 Z" fill="#4c3b3c"/>
<path d="M236,180 L246,180 L244.7,206 Z" fill="#4c3b3c"/>
<path d="M267.5,171 L285,171 L279.4,205 Z" fill="#4c3b3c"/>
<path d="M272,171 L297.5,171 L286.3,211.8 Z" fill="#4c3b3c"/>
<path d="M280,171 L297.5,171 L290.9,206 Z" fill="#4c3b3c"/>
<path d="M300.5,171 L318,171 L309.4,202.5 Z" fill="#4c3b3c"/>
<path d="M306,171 L326,171 L316.4,207.2 Z" fill="#4c3b3c"/>
<path d="M312,171 L334.5,171 L324.5,211.8 Z" fill="#4c3b3c"/>
<path d="M264.3,149.2 V107.7 A18.5,18.5 0 0 1 301.3,107.7 V149.2 Z" fill="#ebd1b4"/>
<line x1="265.3" y1="107.7" x2="300.3" y2="107.7" stroke="#f3e0ca" stroke-width="1.2"/>
<rect x="286.5" y="107.7" width="14.8" height="40.499999999999986" fill="#e6cbac" opacity="0.5"/>
<rect x="234.3" y="154.8" width="25.399999999999977" height="17.69999999999999" fill="#f0d9bd"/>
<line x1="240.7" y1="155.8" x2="240.7" y2="172.5" stroke="#f7e8d6" stroke-width="1.2"/>
<line x1="247.0" y1="155.8" x2="247.0" y2="172.5" stroke="#f7e8d6" stroke-width="1.2"/>
<line x1="253.3" y1="155.8" x2="253.3" y2="172.5" stroke="#f7e8d6" stroke-width="1.2"/>
<rect x="253.3" y="155.8" width="6.3" height="16.69999999999999" fill="#e8cdae" opacity="0.6"/>
<rect x="267.3" y="154.8" width="30.599999999999966" height="17.69999999999999" fill="#f0d9bd"/>
<line x1="274.9" y1="155.8" x2="274.9" y2="172.5" stroke="#f7e8d6" stroke-width="1.2"/>
<line x1="282.6" y1="155.8" x2="282.6" y2="172.5" stroke="#f7e8d6" stroke-width="1.2"/>
<line x1="290.2" y1="155.8" x2="290.2" y2="172.5" stroke="#f7e8d6" stroke-width="1.2"/>
<rect x="290.2" y="155.8" width="7.6" height="16.69999999999999" fill="#e8cdae" opacity="0.6"/>
<rect x="300.2" y="154.8" width="34.69999999999999" height="17.69999999999999" fill="#f0d9bd"/>
<line x1="308.9" y1="155.8" x2="308.9" y2="172.5" stroke="#f7e8d6" stroke-width="1.2"/>
<line x1="317.5" y1="155.8" x2="317.5" y2="172.5" stroke="#f7e8d6" stroke-width="1.2"/>
<line x1="326.2" y1="155.8" x2="326.2" y2="172.5" stroke="#f7e8d6" stroke-width="1.2"/>
<rect x="326.2" y="155.8" width="8.7" height="16.69999999999999" fill="#e8cdae" opacity="0.6"/>
<rect x="222.7" y="148.2" width="134.10000000000002" height="7.600000000000023" fill="#ead0b2"/>
<rect x="222.7" y="148.2" width="134.10000000000002" height="2" fill="#f2dfc8"/>
<path d="M280,210 L264.6,252" stroke="#333" stroke-width="1.3" stroke-dasharray="5 4" fill="none"/>
<path d="M290,208 L308.7,252" stroke="#333" stroke-width="1.3" stroke-dasharray="5 4" fill="none"/>
<g clip-path="url(#c1)">
<circle cx="286" cy="277" r="26.3" fill="#fbf7f4"/>
<path d="M255.7,252.5 L262.5,249.0 L266.8,251.7 L273.0,253.0 L277.9,253.9 L283.8,254.5 L288.2,254.0 L293.4,255.7 L300.4,255.7 L306.0,255.3 L310.8,251.5 L314.9,251.3" fill="none" stroke="#5a92cc" stroke-width="2.4" stroke-linejoin="round"/>
<path d="M255.7,252.5 L262.5,249.0 L266.8,251.7 L273.0,253.0 L277.9,253.9 L283.8,254.5 L288.2,254.0 L293.4,255.7 L300.4,255.7 L306.0,255.3 L310.8,251.5 L314.9,251.3" fill="none" stroke="#5a4d4a" stroke-width="1.1" stroke-linejoin="round"/>
<path d="M255.7,260.8 L261.3,261.3 L266.0,257.4 L271.0,254.5 L276.5,258.5 L282.5,256.0 L289.2,258.4 L295.4,261.6 L301.7,263.9 L306.7,264.2 L313.6,261.5" fill="none" stroke="#c97a52" stroke-width="2.4" stroke-linejoin="round"/>
<path d="M255.7,260.8 L261.3,261.3 L266.0,257.4 L271.0,254.5 L276.5,258.5 L282.5,256.0 L289.2,258.4 L295.4,261.6 L301.7,263.9 L306.7,264.2 L313.6,261.5" fill="none" stroke="#5a4d4a" stroke-width="1.1" stroke-linejoin="round"/>
<path d="M255.7,267.5 L261.3,267.5 L268.1,267.5 L274.6,266.3 L281.2,269.5 L286.6,270.0 L293.4,271.8 L298.8,269.6 L303.8,271.2 L308.3,272.7 L313.1,272.7 L318.0,272.7" fill="none" stroke="#5a92cc" stroke-width="2.4" stroke-linejoin="round"/>
<path d="M255.7,267.5 L261.3,267.5 L268.1,267.5 L274.6,266.3 L281.2,269.5 L286.6,270.0 L293.4,271.8 L298.8,269.6 L303.8,271.2 L308.3,272.7 L313.1,272.7 L318.0,272.7" fill="none" stroke="#5a4d4a" stroke-width="1.1" stroke-linejoin="round"/>
<path d="M255.7,276.3 L261.7,277.0 L266.6,274.6 L272.1,278.1 L278.0,274.7 L284.5,276.5 L291.2,274.1 L297.4,271.2 L303.4,271.2 L308.1,274.2 L312.4,274.4" fill="none" stroke="#c97a52" stroke-width="2.4" stroke-linejoin="round"/>
<path d="M255.7,276.3 L261.7,277.0 L266.6,274.6 L272.1,278.1 L278.0,274.7 L284.5,276.5 L291.2,274.1 L297.4,271.2 L303.4,271.2 L308.1,274.2 L312.4,274.4" fill="none" stroke="#5a4d4a" stroke-width="1.1" stroke-linejoin="round"/>
<path d="M255.7,283.5 L262.3,282.9 L268.5,279.7 L273.6,279.7 L279.6,279.7 L286.5,279.7 L292.6,279.7 L297.4,282.2 L301.9,279.7 L308.0,279.7 L312.1,283.6 L316.5,279.9" fill="none" stroke="#5a92cc" stroke-width="2.4" stroke-linejoin="round"/>
<path d="M255.7,283.5 L262.3,282.9 L268.5,279.7 L273.6,279.7 L279.6,279.7 L286.5,279.7 L292.6,279.7 L297.4,282.2 L301.9,279.7 L308.0,279.7 L312.1,283.6 L316.5,279.9" fill="none" stroke="#5a4d4a" stroke-width="1.1" stroke-linejoin="round"/>
<path d="M255.7,294.2 L260.0,292.9 L264.1,292.5 L270.4,294.4 L277.1,296.4 L283.7,298.1 L289.1,295.9 L295.1,294.4 L299.4,294.0 L306.1,291.0 L311.8,290.1 L317.4,288.2" fill="none" stroke="#c97a52" stroke-width="2.4" stroke-linejoin="round"/>
<path d="M255.7,294.2 L260.0,292.9 L264.1,292.5 L270.4,294.4 L277.1,296.4 L283.7,298.1 L289.1,295.9 L295.1,294.4 L299.4,294.0 L306.1,291.0 L311.8,290.1 L317.4,288.2" fill="none" stroke="#5a4d4a" stroke-width="1.1" stroke-linejoin="round"/>
<path d="M255.7,302.1 L261.0,298.3 L266.6,296.7 L270.8,296.7 L275.3,296.7 L281.2,296.8 L288.1,300.2 L295.1,298.1 L300.5,296.7 L306.2,297.7 L312.6,299.4 L317.4,298.8" fill="none" stroke="#5a92cc" stroke-width="2.4" stroke-linejoin="round"/>
<path d="M255.7,302.1 L261.0,298.3 L266.6,296.7 L270.8,296.7 L275.3,296.7 L281.2,296.8 L288.1,300.2 L295.1,298.1 L300.5,296.7 L306.2,297.7 L312.6,299.4 L317.4,298.8" fill="none" stroke="#5a4d4a" stroke-width="1.1" stroke-linejoin="round"/>
<path d="M257.8,246.7 L254.7,251.9 L254.7,258.1 L254.7,262.4 L254.7,267.1 L254.7,272.7 L255.8,277.6 L259.1,282.2 L260.9,289.1 L261.0,294.4 L257.4,300.2 L257.6,305.4" fill="none" stroke="#c97a52" stroke-width="2.4" stroke-linejoin="round"/>
<path d="M257.8,246.7 L254.7,251.9 L254.7,258.1 L254.7,262.4 L254.7,267.1 L254.7,272.7 L255.8,277.6 L259.1,282.2 L260.9,289.1 L261.0,294.4 L257.4,300.2 L257.6,305.4" fill="none" stroke="#5a4d4a" stroke-width="1.1" stroke-linejoin="round"/>
<path d="M269.4,246.7 L269.6,251.8 L270.4,258.6 L273.2,263.4 L269.4,268.5 L266.2,274.6 L268.9,279.5 L265.0,285.5 L264.3,290.9 L263.2,296.4 L263.2,302.1 L263.2,307.0" fill="none" stroke="#5a92cc" stroke-width="2.4" stroke-linejoin="round"/>
<path d="M269.4,246.7 L269.6,251.8 L270.4,258.6 L273.2,263.4 L269.4,268.5 L266.2,274.6 L268.9,279.5 L265.0,285.5 L264.3,290.9 L263.2,296.4 L263.2,302.1 L263.2,307.0" fill="none" stroke="#5a4d4a" stroke-width="1.1" stroke-linejoin="round"/>
<path d="M277.7,246.7 L278.3,251.3 L278.0,256.5 L277.2,262.7 L274.1,267.1 L276.9,271.3 L280.6,277.2 L276.8,283.3 L279.0,289.3 L279.0,295.5 L278.7,300.5 L276.8,306.9" fill="none" stroke="#c97a52" stroke-width="2.4" stroke-linejoin="round"/>
<path d="M277.7,246.7 L278.3,251.3 L278.0,256.5 L277.2,262.7 L274.1,267.1 L276.9,271.3 L280.6,277.2 L276.8,283.3 L279.0,289.3 L279.0,295.5 L278.7,300.5 L276.8,306.9" fill="none" stroke="#5a4d4a" stroke-width="1.1" stroke-linejoin="round"/>
<path d="M287.0,246.7 L290.2,253.1 L288.6,259.6 L288.5,264.3 L287.9,269.1 L290.2,275.1 L290.2,280.9 L289.0,285.2 L286.2,292.2 L282.8,297.4 L285.9,301.7 L287.1,308.6" fill="none" stroke="#5a92cc" stroke-width="2.4" stroke-linejoin="round"/>
<path d="M287.0,246.7 L290.2,253.1 L288.6,259.6 L288.5,264.3 L287.9,269.1 L290.2,275.1 L290.2,280.9 L289.0,285.2 L286.2,292.2 L282.8,297.4 L285.9,301.7 L287.1,308.6" fill="none" stroke="#5a4d4a" stroke-width="1.1" stroke-linejoin="round"/>
<path d="M292.6,246.7 L294.1,252.7 L294.3,258.0 L294.6,262.4 L296.6,269.2 L296.8,273.5 L294.8,279.6 L294.5,286.3 L293.8,292.4 L296.0,299.4 L293.2,305.1" fill="none" stroke="#c97a52" stroke-width="2.4" stroke-linejoin="round"/>
<path d="M292.6,246.7 L294.1,252.7 L294.3,258.0 L294.6,262.4 L296.6,269.2 L296.8,273.5 L294.8,279.6 L294.5,286.3 L293.8,292.4 L296.0,299.4 L293.2,305.1" fill="none" stroke="#5a4d4a" stroke-width="1.1" stroke-linejoin="round"/>
<path d="M302.6,246.7 L300.0,253.3 L299.9,258.9 L301.6,264.1 L303.2,270.9 L306.9,276.3 L307.2,281.3 L307.2,287.3 L305.0,293.8 L304.2,299.7 L307.2,305.7" fill="none" stroke="#5a92cc" stroke-width="2.4" stroke-linejoin="round"/>
<path d="M302.6,246.7 L300.0,253.3 L299.9,258.9 L301.6,264.1 L303.2,270.9 L306.9,276.3 L307.2,281.3 L307.2,287.3 L305.0,293.8 L304.2,299.7 L307.2,305.7" fill="none" stroke="#5a4d4a" stroke-width="1.1" stroke-linejoin="round"/>
<path d="M310.6,246.7 L313.6,252.8 L315.7,258.8 L315.7,262.8 L315.7,269.0 L315.7,275.7 L315.7,280.0 L313.3,286.3 L314.0,292.6 L315.7,297.2 L315.7,301.6 L313.7,306.9" fill="none" stroke="#c97a52" stroke-width="2.4" stroke-linejoin="round"/>
<path d="M310.6,246.7 L313.6,252.8 L315.7,258.8 L315.7,262.8 L315.7,269.0 L315.7,275.7 L315.7,280.0 L313.3,286.3 L314.0,292.6 L315.7,297.2 L315.7,301.6 L313.7,306.9" fill="none" stroke="#5a4d4a" stroke-width="1.1" stroke-linejoin="round"/>
</g>
<circle cx="286" cy="277" r="26.3" fill="none" stroke="#3a3f4a" stroke-width="1.5" stroke-dasharray="4.5 3.5"/>
<path d="M237.5,547 L265,547 L251,588 Z" fill="#4c3b3c"/>
<path d="M272.5,547 L290,547 L283,582 Z" fill="#4c3b3c"/>
<path d="M276,547 L300,547 L287,586.4 Z" fill="#4c3b3c"/>
<path d="M285,547 L304,547 L294,581 Z" fill="#4c3b3c"/>
<path d="M306.5,547 L322,547 L312,579 Z" fill="#4c3b3c"/>
<path d="M310,547 L332,547 L319,583 Z" fill="#4c3b3c"/>
<path d="M318,547 L344.5,547 L325,584.7 Z" fill="#4c3b3c"/>
<circle cx="249" cy="560" r="3.4" fill="#f8e61c" stroke="#d8b800" stroke-width="0.6"/>
<circle cx="256" cy="567" r="3.4" fill="#f8e61c" stroke="#d8b800" stroke-width="0.6"/>
<circle cx="250" cy="575" r="3.4" fill="#f8e61c" stroke="#d8b800" stroke-width="0.6"/>
<circle cx="283" cy="557" r="3.4" fill="#f8e61c" stroke="#d8b800" stroke-width="0.6"/>
<circle cx="292" cy="555" r="3.4" fill="#f8e61c" stroke="#d8b800" stroke-width="0.6"/>
<circle cx="300" cy="557" r="3.4" fill="#f8e61c" stroke="#d8b800" stroke-width="0.6"/>
<circle cx="287" cy="566" r="3.4" fill="#f8e61c" stroke="#d8b800" stroke-width="0.6"/>
<circle cx="296" cy="566" r="3.4" fill="#f8e61c" stroke="#d8b800" stroke-width="0.6"/>
<circle cx="290" cy="575" r="3.4" fill="#f8e61c" stroke="#d8b800" stroke-width="0.6"/>
<circle cx="313" cy="559" r="3.4" fill="#f8e61c" stroke="#d8b800" stroke-width="0.6"/>
<circle cx="327" cy="556" r="3.4" fill="#f8e61c" stroke="#d8b800" stroke-width="0.6"/>
<circle cx="339" cy="558" r="3.4" fill="#f8e61c" stroke="#d8b800" stroke-width="0.6"/>
<circle cx="318" cy="566" r="3.4" fill="#f8e61c" stroke="#d8b800" stroke-width="0.6"/>
<circle cx="332" cy="565" r="3.4" fill="#f8e61c" stroke="#d8b800" stroke-width="0.6"/>
<circle cx="321" cy="575" r="3.4" fill="#f8e61c" stroke="#d8b800" stroke-width="0.6"/>
<path d="M269.5,522.7 V479.7 A19.19999999999999,19.19999999999999 0 0 1 307.9,479.7 V522.7 Z" fill="#ebd1b4"/>
<line x1="270.5" y1="479.7" x2="306.9" y2="479.7" stroke="#f3e0ca" stroke-width="1.2"/>
<rect x="292.5" y="479.7" width="15.4" height="42.00000000000006" fill="#e6cbac" opacity="0.5"/>
<rect x="237.3" y="528.7" width="28.0" height="19.299999999999955" fill="#f0d9bd"/>
<line x1="244.3" y1="529.7" x2="244.3" y2="548" stroke="#f7e8d6" stroke-width="1.2"/>
<line x1="251.3" y1="529.7" x2="251.3" y2="548" stroke="#f7e8d6" stroke-width="1.2"/>
<line x1="258.3" y1="529.7" x2="258.3" y2="548" stroke="#f7e8d6" stroke-width="1.2"/>
<rect x="258.3" y="529.7" width="7.0" height="18.299999999999955" fill="#e8cdae" opacity="0.6"/>
<rect x="272.3" y="528.7" width="32.099999999999966" height="19.299999999999955" fill="#f0d9bd"/>
<line x1="280.3" y1="529.7" x2="280.3" y2="548" stroke="#f7e8d6" stroke-width="1.2"/>
<line x1="288.4" y1="529.7" x2="288.4" y2="548" stroke="#f7e8d6" stroke-width="1.2"/>
<line x1="296.4" y1="529.7" x2="296.4" y2="548" stroke="#f7e8d6" stroke-width="1.2"/>
<rect x="296.4" y="529.7" width="8.0" height="18.299999999999955" fill="#e8cdae" opacity="0.6"/>
<rect x="306.2" y="528.7" width="38.5" height="19.299999999999955" fill="#f0d9bd"/>
<line x1="315.8" y1="529.7" x2="315.8" y2="548" stroke="#f7e8d6" stroke-width="1.2"/>
<line x1="325.4" y1="529.7" x2="325.4" y2="548" stroke="#f7e8d6" stroke-width="1.2"/>
<line x1="335.1" y1="529.7" x2="335.1" y2="548" stroke="#f7e8d6" stroke-width="1.2"/>
<rect x="335.1" y="529.7" width="9.6" height="18.299999999999955" fill="#e8cdae" opacity="0.6"/>
<rect x="225.7" y="521.7" width="139.90000000000003" height="8.0" fill="#ead0b2"/>
<rect x="225.7" y="521.7" width="139.90000000000003" height="2" fill="#f2dfc8"/>
<path d="M284,582 L270,636" stroke="#333" stroke-width="1.3" stroke-dasharray="5 4" fill="none"/>
<path d="M293,580 L316,630" stroke="#333" stroke-width="1.3" stroke-dasharray="5 4" fill="none"/>
<g clip-path="url(#c3)">
<circle cx="292" cy="652.7" r="26.3" fill="#fbf7f4"/>
<circle cx="269.6" cy="629.9" r="4.3" fill="#f3e03a"/>
<circle cx="279.3" cy="631.9" r="4.3" fill="#f3e03a"/>
<circle cx="289.7" cy="630.4" r="4.3" fill="#f3e03a"/>
<circle cx="304.3" cy="628.7" r="4.3" fill="#f3e03a"/>
<circle cx="313.9" cy="630.9" r="4.3" fill="#f3e03a"/>
<circle cx="273.4" cy="639.9" r="4.3" fill="#f3e03a"/>
<circle cx="287.0" cy="640.2" r="4.3" fill="#f3e03a"/>
<circle cx="298.1" cy="639.0" r="4.3" fill="#f3e03a"/>
<circle cx="307.2" cy="638.8" r="4.3" fill="#f3e03a"/>
<circle cx="269.7" cy="652.1" r="4.3" fill="#f3e03a"/>
<circle cx="281.1" cy="651.5" r="4.3" fill="#f3e03a"/>
<circle cx="291.2" cy="651.4" r="4.3" fill="#f3e03a"/>
<circle cx="301.1" cy="649.6" r="4.3" fill="#f3e03a"/>
<circle cx="314.4" cy="651.3" r="4.3" fill="#f3e03a"/>
<circle cx="274.9" cy="658.8" r="4.3" fill="#f3e03a"/>
<circle cx="285.3" cy="659.2" r="4.3" fill="#f3e03a"/>
<circle cx="296.3" cy="661.6" r="4.3" fill="#f3e03a"/>
<circle cx="307.0" cy="661.9" r="4.3" fill="#f3e03a"/>
<circle cx="271.2" cy="668.6" r="4.3" fill="#f3e03a"/>
<circle cx="280.2" cy="670.4" r="4.3" fill="#f3e03a"/>
<circle cx="289.8" cy="670.1" r="4.3" fill="#f3e03a"/>
<circle cx="304.3" cy="668.8" r="4.3" fill="#f3e03a"/>
<circle cx="314.1" cy="668.9" r="4.3" fill="#f3e03a"/>
<path d="M261.7,626.7 L268.4,624.3 L272.4,621.4 L278.0,621.4 L282.3,621.4 L289.0,621.4 L294.2,622.5 L298.5,623.1 L303.0,624.0 L309.9,621.4 L315.6,622.3 L320.0,621.4" fill="none" stroke="#5a92cc" stroke-width="2.4" stroke-linejoin="round"/>
<path d="M261.7,626.7 L268.4,624.3 L272.4,621.4 L278.0,621.4 L282.3,621.4 L289.0,621.4 L294.2,622.5 L298.5,623.1 L303.0,624.0 L309.9,621.4 L315.6,622.3 L320.0,621.4" fill="none" stroke="#5a4d4a" stroke-width="1.1" stroke-linejoin="round"/>
<path d="M261.7,633.4 L267.8,637.0 L272.5,637.9 L276.7,636.8 L282.7,637.5 L289.0,634.2 L294.0,637.1 L299.8,636.7 L305.0,639.9 L310.7,636.0 L317.1,634.7 L322.4,632.4" fill="none" stroke="#c97a52" stroke-width="2.4" stroke-linejoin="round"/>
<path d="M261.7,633.4 L267.8,637.0 L272.5,637.9 L276.7,636.8 L282.7,637.5 L289.0,634.2 L294.0,637.1 L299.8,636.7 L305.0,639.9 L310.7,636.0 L317.1,634.7 L322.4,632.4" fill="none" stroke="#5a4d4a" stroke-width="1.1" stroke-linejoin="round"/>
<path d="M261.7,641.8 L267.6,638.6 L273.9,638.4 L280.3,640.9 L285.8,642.5 L290.5,644.4 L295.8,642.3 L302.7,641.5 L307.8,644.4 L312.9,645.7 L317.4,648.4 L322.2,644.8" fill="none" stroke="#5a92cc" stroke-width="2.4" stroke-linejoin="round"/>
<path d="M261.7,641.8 L267.6,638.6 L273.9,638.4 L280.3,640.9 L285.8,642.5 L290.5,644.4 L295.8,642.3 L302.7,641.5 L307.8,644.4 L312.9,645.7 L317.4,648.4 L322.2,644.8" fill="none" stroke="#5a4d4a" stroke-width="1.1" stroke-linejoin="round"/>
<path d="M261.7,653.7 L268.7,654.5 L272.7,651.0 L277.3,650.1 L283.2,653.9 L288.2,651.0 L293.9,648.1 L298.2,648.5 L304.3,646.9 L309.6,648.5 L315.9,647.6 L322.6,646.9" fill="none" stroke="#c97a52" stroke-width="2.4" stroke-linejoin="round"/>
<path d="M261.7,653.7 L268.7,654.5 L272.7,651.0 L277.3,650.1 L283.2,653.9 L288.2,651.0 L293.9,648.1 L298.2,648.5 L304.3,646.9 L309.6,648.5 L315.9,647.6 L322.6,646.9" fill="none" stroke="#5a4d4a" stroke-width="1.1" stroke-linejoin="round"/>
<path d="M261.7,661.9 L267.2,658.7 L271.3,658.9 L275.8,660.0 L280.1,662.2 L284.8,658.3 L289.3,658.0 L295.0,657.1 L299.5,656.9 L306.3,657.2 L313.2,655.4 L320.1,658.5" fill="none" stroke="#5a92cc" stroke-width="2.4" stroke-linejoin="round"/>
<path d="M261.7,661.9 L267.2,658.7 L271.3,658.9 L275.8,660.0 L280.1,662.2 L284.8,658.3 L289.3,658.0 L295.0,657.1 L299.5,656.9 L306.3,657.2 L313.2,655.4 L320.1,658.5" fill="none" stroke="#5a4d4a" stroke-width="1.1" stroke-linejoin="round"/>
<path d="M261.7,669.0 L268.4,665.6 L274.4,665.9 L279.3,667.7 L285.4,664.5 L291.5,664.2 L297.0,665.3 L301.1,666.1 L306.3,669.1 L311.0,671.7 L317.1,672.7 L323.8,669.0" fill="none" stroke="#c97a52" stroke-width="2.4" stroke-linejoin="round"/>
<path d="M261.7,669.0 L268.4,665.6 L274.4,665.9 L279.3,667.7 L285.4,664.5 L291.5,664.2 L297.0,665.3 L301.1,666.1 L306.3,669.1 L311.0,671.7 L317.1,672.7 L323.8,669.0" fill="none" stroke="#5a4d4a" stroke-width="1.1" stroke-linejoin="round"/>
<path d="M261.7,678.1 L266.9,674.7 L271.5,675.5 L276.0,672.4 L281.1,672.4 L286.7,672.4 L293.0,672.4 L299.4,672.4 L306.2,673.1 L313.2,677.0 L319.7,673.9" fill="none" stroke="#5a92cc" stroke-width="2.4" stroke-linejoin="round"/>
<path d="M261.7,678.1 L266.9,674.7 L271.5,675.5 L276.0,672.4 L281.1,672.4 L286.7,672.4 L293.0,672.4 L299.4,672.4 L306.2,673.1 L313.2,677.0 L319.7,673.9" fill="none" stroke="#5a4d4a" stroke-width="1.1" stroke-linejoin="round"/>
<path d="M266.8,622.4 L264.6,627.0 L261.5,631.3 L265.4,638.1 L267.3,643.2 L267.5,648.6 L268.5,653.8 L266.6,658.5 L264.2,664.0 L267.7,669.3 L264.5,673.4 L261.0,679.8 L263.8,684.6" fill="none" stroke="#c97a52" stroke-width="2.4" stroke-linejoin="round"/>
<path d="M266.8,622.4 L264.6,627.0 L261.5,631.3 L265.4,638.1 L267.3,643.2 L267.5,648.6 L268.5,653.8 L266.6,658.5 L264.2,664.0 L267.7,669.3 L264.5,673.4 L261.0,679.8 L263.8,684.6" fill="none" stroke="#5a4d4a" stroke-width="1.1" stroke-linejoin="round"/>
<path d="M272.4,622.4 L270.8,627.2 L274.6,633.6 L277.9,640.0 L279.2,646.8 L279.2,653.5 L277.7,657.8 L278.6,662.6 L277.4,668.0 L276.5,674.5 L274.8,679.2 L275.6,684.6" fill="none" stroke="#5a92cc" stroke-width="2.4" stroke-linejoin="round"/>
<path d="M272.4,622.4 L270.8,627.2 L274.6,633.6 L277.9,640.0 L279.2,646.8 L279.2,653.5 L277.7,657.8 L278.6,662.6 L277.4,668.0 L276.5,674.5 L274.8,679.2 L275.6,684.6" fill="none" stroke="#5a4d4a" stroke-width="1.1" stroke-linejoin="round"/>
<path d="M281.4,622.4 L280.0,627.6 L280.4,632.1 L282.1,636.7 L279.2,642.7 L277.9,648.5 L278.7,653.9 L281.8,660.2 L279.5,666.4 L278.2,672.0 L278.6,676.0 L281.5,681.5" fill="none" stroke="#c97a52" stroke-width="2.4" stroke-linejoin="round"/>
<path d="M281.4,622.4 L280.0,627.6 L280.4,632.1 L282.1,636.7 L279.2,642.7 L277.9,648.5 L278.7,653.9 L281.8,660.2 L279.5,666.4 L278.2,672.0 L278.6,676.0 L281.5,681.5" fill="none" stroke="#5a4d4a" stroke-width="1.1" stroke-linejoin="round"/>
<path d="M291.3,622.4 L293.0,626.7 L293.3,631.6 L289.3,635.8 L286.2,642.5 L286.2,647.0 L288.8,651.3 L290.0,658.2 L293.1,663.4 L290.2,669.0 L289.0,675.0 L287.6,679.8 L286.2,685.0" fill="none" stroke="#5a92cc" stroke-width="2.4" stroke-linejoin="round"/>
<path d="M291.3,622.4 L293.0,626.7 L293.3,631.6 L289.3,635.8 L286.2,642.5 L286.2,647.0 L288.8,651.3 L290.0,658.2 L293.1,663.4 L290.2,669.0 L289.0,675.0 L287.6,679.8 L286.2,685.0" fill="none" stroke="#5a4d4a" stroke-width="1.1" stroke-linejoin="round"/>
<path d="M300.0,622.4 L301.5,626.4 L301.3,630.5 L302.7,637.1 L304.7,643.8 L301.8,648.6 L303.3,654.0 L301.9,658.7 L300.7,664.9 L301.1,670.7 L297.3,677.5 L299.5,682.1" fill="none" stroke="#c97a52" stroke-width="2.4" stroke-linejoin="round"/>
<path d="M300.0,622.4 L301.5,626.4 L301.3,630.5 L302.7,637.1 L304.7,643.8 L301.8,648.6 L303.3,654.0 L301.9,658.7 L300.7,664.9 L301.1,670.7 L297.3,677.5 L299.5,682.1" fill="none" stroke="#5a4d4a" stroke-width="1.1" stroke-linejoin="round"/>
<path d="M306.7,622.4 L307.1,627.0 L304.8,633.7 L306.3,638.3 L309.1,643.6 L312.6,650.6 L312.5,656.8 L313.2,660.9 L312.9,666.1 L313.2,672.0 L313.2,677.7 L309.9,684.6" fill="none" stroke="#5a92cc" stroke-width="2.4" stroke-linejoin="round"/>
<path d="M306.7,622.4 L307.1,627.0 L304.8,633.7 L306.3,638.3 L309.1,643.6 L312.6,650.6 L312.5,656.8 L313.2,660.9 L312.9,666.1 L313.2,672.0 L313.2,677.7 L309.9,684.6" fill="none" stroke="#5a4d4a" stroke-width="1.1" stroke-linejoin="round"/>
<path d="M317.8,622.4 L315.3,629.3 L318.7,634.9 L320.1,640.5 L317.5,647.4 L320.3,651.6 L317.9,657.4 L316.2,663.9 L314.6,668.2 L313.8,672.4 L313.4,678.7" fill="none" stroke="#c97a52" stroke-width="2.4" stroke-linejoin="round"/>
<path d="M317.8,622.4 L315.3,629.3 L318.7,634.9 L320.1,640.5 L317.5,647.4 L320.3,651.6 L317.9,657.4 L316.2,663.9 L314.6,668.2 L313.8,672.4 L313.4,678.7" fill="none" stroke="#5a4d4a" stroke-width="1.1" stroke-linejoin="round"/>
</g>
<circle cx="292" cy="652.7" r="26.3" fill="none" stroke="#3a3f4a" stroke-width="1.5" stroke-dasharray="4.5 3.5"/>
<rect x="14" y="266" width="156" height="100" rx="18" fill="#dcedf8" filter="url(#blur3)"/>
<path d="M106.7,265 C104.7,295 126,313.8 134,323.8 C142,313.8 149.2,295 147.2,265 Z" fill="#4b505d"/>
<path d="M72,264 C70,294 88.6,315.3 96.6,325.3 C104.6,315.3 113,294 111,264 Z" fill="#454a57"/>
<path d="M37.3,264.6 C35.3,294.6 51,316.7 59,326.7 C67,316.7 75.5,294.6 73.5,264.6 Z" fill="#434855"/>
<path d="M72.3,240.4 V200.35 A17.35,17.35 0 0 1 107,200.35 V240.4 Z" fill="#ebd1b4"/>
<line x1="73.3" y1="200.35" x2="106" y2="200.35" stroke="#f3e0ca" stroke-width="1.2"/>
<rect x="93.1" y="200.35" width="13.9" height="39.050000000000004" fill="#e6cbac" opacity="0.5"/>
<rect x="42" y="246.5" width="27.400000000000006" height="19.5" fill="#f0d9bd"/>
<line x1="48.9" y1="247.5" x2="48.9" y2="266" stroke="#f7e8d6" stroke-width="1.2"/>
<line x1="55.7" y1="247.5" x2="55.7" y2="266" stroke="#f7e8d6" stroke-width="1.2"/>
<line x1="62.6" y1="247.5" x2="62.6" y2="266" stroke="#f7e8d6" stroke-width="1.2"/>
<rect x="62.6" y="247.5" width="6.9" height="18.5" fill="#e8cdae" opacity="0.6"/>
<rect x="74.6" y="246.5" width="29.400000000000006" height="19.5" fill="#f0d9bd"/>
<line x1="81.9" y1="247.5" x2="81.9" y2="266" stroke="#f7e8d6" stroke-width="1.2"/>
<line x1="89.3" y1="247.5" x2="89.3" y2="266" stroke="#f7e8d6" stroke-width="1.2"/>
<line x1="96.7" y1="247.5" x2="96.7" y2="266" stroke="#f7e8d6" stroke-width="1.2"/>
<rect x="96.7" y="247.5" width="7.4" height="18.5" fill="#e8cdae" opacity="0.6"/>
<rect x="107" y="246.5" width="34.599999999999994" height="19.5" fill="#f0d9bd"/>
<line x1="115.7" y1="247.5" x2="115.7" y2="266" stroke="#f7e8d6" stroke-width="1.2"/>
<line x1="124.3" y1="247.5" x2="124.3" y2="266" stroke="#f7e8d6" stroke-width="1.2"/>
<line x1="132.9" y1="247.5" x2="132.9" y2="266" stroke="#f7e8d6" stroke-width="1.2"/>
<rect x="132.9" y="247.5" width="8.6" height="18.5" fill="#e8cdae" opacity="0.6"/>
<rect x="30.3" y="239.4" width="133.0" height="8.099999999999994" fill="#ead0b2"/>
<rect x="30.3" y="239.4" width="133.0" height="2" fill="#f2dfc8"/>
<circle cx="44.8" cy="277" r="3.3" fill="url(#gy)" stroke="#d9b300" stroke-width="0.7"/>
<circle cx="56.4" cy="281.3" r="3.3" fill="url(#gy)" stroke="#d9b300" stroke-width="0.7"/>
<circle cx="66.5" cy="275.5" r="3.3" fill="url(#gy)" stroke="#d9b300" stroke-width="0.7"/>
<circle cx="53.5" cy="294.3" r="3.3" fill="url(#gy)" stroke="#d9b300" stroke-width="0.7"/>
<circle cx="66.5" cy="291.4" r="3.3" fill="url(#gy)" stroke="#d9b300" stroke-width="0.7"/>
<circle cx="59.2" cy="308.2" r="3.3" fill="url(#gy)" stroke="#d9b300" stroke-width="0.7"/>
<circle cx="85.3" cy="278.4" r="3.3" fill="url(#gy)" stroke="#d9b300" stroke-width="0.7"/>
<circle cx="102.6" cy="277" r="3.3" fill="url(#gy)" stroke="#d9b300" stroke-width="0.7"/>
<circle cx="95.4" cy="287" r="3.3" fill="url(#gy)" stroke="#d9b300" stroke-width="0.7"/>
<circle cx="98.3" cy="301.5" r="3.3" fill="url(#gy)" stroke="#d9b300" stroke-width="0.7"/>
<circle cx="120" cy="275.5" r="3.3" fill="url(#gy)" stroke="#d9b300" stroke-width="0.7"/>
<circle cx="138.2" cy="274" r="3.3" fill="url(#gy)" stroke="#d9b300" stroke-width="0.7"/>
<circle cx="131.5" cy="281.3" r="3.3" fill="url(#gy)" stroke="#d9b300" stroke-width="0.7"/>
<circle cx="124.3" cy="292.8" r="3.3" fill="url(#gy)" stroke="#d9b300" stroke-width="0.7"/>
<circle cx="138.2" cy="288.5" r="3.3" fill="url(#gy)" stroke="#d9b300" stroke-width="0.7"/>
<circle cx="128.6" cy="305.3" r="3.3" fill="url(#gy)" stroke="#d9b300" stroke-width="0.7"/>
<circle cx="24.6" cy="310.2" r="3.3" fill="url(#gy)" stroke="#d9b300" stroke-width="0.7"/>
<circle cx="24.6" cy="327.5" r="3.3" fill="url(#gy)" stroke="#d9b300" stroke-width="0.7"/>
<circle cx="36.1" cy="340" r="3.3" fill="url(#gy)" stroke="#d9b300" stroke-width="0.7"/>
<circle cx="43.4" cy="327.5" r="3.3" fill="url(#gy)" stroke="#d9b300" stroke-width="0.7"/>
<circle cx="62.1" cy="333.3" r="3.3" fill="url(#gy)" stroke="#d9b300" stroke-width="0.7"/>
<circle cx="75.7" cy="323.2" r="3.3" fill="url(#gy)" stroke="#d9b300" stroke-width="0.7"/>
<circle cx="89.6" cy="336.2" r="3.3" fill="url(#gy)" stroke="#d9b300" stroke-width="0.7"/>
<circle cx="108.4" cy="324" r="3.3" fill="url(#gy)" stroke="#d9b300" stroke-width="0.7"/>
<circle cx="122.8" cy="334.2" r="3.3" fill="url(#gy)" stroke="#d9b300" stroke-width="0.7"/>
<circle cx="144.5" cy="332.4" r="3.3" fill="url(#gy)" stroke="#d9b300" stroke-width="0.7"/>
<circle cx="156" cy="314.5" r="3.3" fill="url(#gy)" stroke="#d9b300" stroke-width="0.7"/>
<circle cx="166.2" cy="300" r="3.3" fill="url(#gy)" stroke="#d9b300" stroke-width="0.7"/>
<circle cx="163.3" cy="334.7" r="3.3" fill="url(#gy)" stroke="#d9b300" stroke-width="0.7"/>
<circle cx="152.6" cy="344.9" r="3.3" fill="url(#gy)" stroke="#d9b300" stroke-width="0.7"/>
<path d="M26,301 Q32,294 43,293" fill="none" stroke="#111" stroke-width="1.7"/>
<path d="M45.0,292.8 L38.8,296.4 L40.1,293.3 L38.2,290.4 Z" fill="#111"/>
<path d="M42,324 Q43,314 52,309" fill="none" stroke="#111" stroke-width="1.7"/>
<path d="M53.7,308.0 L49.5,313.8 L49.5,310.4 L46.6,308.6 Z" fill="#111"/>
<path d="M78,325 Q78,314 72,307" fill="none" stroke="#111" stroke-width="1.7"/>
<path d="M70.7,305.5 L77.2,308.5 L73.9,309.2 L72.7,312.4 Z" fill="#111"/>
<path d="M90,303 Q84,296 77,293" fill="none" stroke="#111" stroke-width="1.7"/>
<path d="M75.2,292.2 L82.3,292.0 L79.6,294.1 L80.0,297.5 Z" fill="#111"/>
<path d="M100,318 Q103,308 112,303" fill="none" stroke="#111" stroke-width="1.7"/>
<path d="M113.7,302.0 L109.5,307.8 L109.5,304.4 L106.6,302.6 Z" fill="#111"/>
<path d="M116,323 Q116,314 121,310" fill="none" stroke="#111" stroke-width="1.7"/>
<path d="M122.6,308.8 L119.4,315.2 L118.8,311.8 L115.6,310.5 Z" fill="#111"/>
<path d="M141,327 Q140,318 134,313" fill="none" stroke="#111" stroke-width="1.7"/>
<path d="M132.5,311.7 L139.4,313.6 L136.2,314.8 L135.5,318.2 Z" fill="#111"/>
<path d="M153,305 Q148,298 140,297" fill="none" stroke="#111" stroke-width="1.7"/>
<path d="M138.0,296.8 L144.8,294.6 L142.9,297.4 L144.1,300.5 Z" fill="#111"/>
<text x="47.7" y="357.3" font-size="13" fill="#3592b6" font-weight="normal" font-style="italic" text-anchor="start" textLength="92" lengthAdjust="spacingAndGlyphs" stroke="#3592b6" stroke-width="0.2" >Antigen solution</text>
<path d="M86.6,324.5 L46.9,387.7" stroke="#333" stroke-width="1.3" stroke-dasharray="5 4" fill="none"/>
<path d="M102.9,326.4 L122.7,402" stroke="#333" stroke-width="1.3" stroke-dasharray="5 4" fill="none"/>
<path d="M164,334 L184,362" stroke="#333" stroke-width="1.2" stroke-dasharray="4 3" fill="none"/>
<g clip-path="url(#c2)">
<circle cx="80" cy="425.5" r="48.5" fill="#ffffff"/>
<path d="M30,417 C60,404 95,398 128,400" fill="none" stroke="#a8765c" stroke-width="1.6"/>
<path d="M38,447 C65,434 100,428 130,430" fill="none" stroke="#a8765c" stroke-width="1.6"/>
<path d="M60,468 C80,460 105,456 125,457" fill="none" stroke="#a8765c" stroke-width="1.6"/>
<path d="M42,393 C48,420 50,450 54,475" fill="none" stroke="#4a7cae" stroke-width="1.6"/>
<path d="M72,378 C80,405 85,440 86,478" fill="none" stroke="#4a7cae" stroke-width="1.6"/>
<path d="M114,389 C118,410 119,440 117,470" fill="none" stroke="#4a7cae" stroke-width="1.6"/>
<circle cx="56" cy="390" r="3.3" fill="#f8e628" stroke="#dcbc00" stroke-width="0.6"/>
<circle cx="69" cy="393" r="3.3" fill="#f8e628" stroke="#dcbc00" stroke-width="0.6"/>
<circle cx="51" cy="401" r="3.3" fill="#f8e628" stroke="#dcbc00" stroke-width="0.6"/>
<circle cx="83" cy="385" r="3.3" fill="#f8e628" stroke="#dcbc00" stroke-width="0.6"/>
<circle cx="95" cy="392" r="3.3" fill="#f8e628" stroke="#dcbc00" stroke-width="0.6"/>
<circle cx="67" cy="417" r="3.3" fill="#f8e628" stroke="#dcbc00" stroke-width="0.6"/>
<circle cx="50" cy="421" r="3.3" fill="#f8e628" stroke="#dcbc00" stroke-width="0.6"/>
<circle cx="76" cy="411" r="3.3" fill="#f8e628" stroke="#dcbc00" stroke-width="0.6"/>
<circle cx="89" cy="405" r="3.3" fill="#f8e628" stroke="#dcbc00" stroke-width="0.6"/>
<circle cx="103" cy="405" r="3.3" fill="#f8e628" stroke="#dcbc00" stroke-width="0.6"/>
<circle cx="98" cy="418" r="3.3" fill="#f8e628" stroke="#dcbc00" stroke-width="0.6"/>
<circle cx="107" cy="417" r="3.3" fill="#f8e628" stroke="#dcbc00" stroke-width="0.6"/>
<circle cx="44" cy="440" r="3.3" fill="#f8e628" stroke="#dcbc00" stroke-width="0.6"/>
<circle cx="62" cy="432" r="3.3" fill="#f8e628" stroke="#dcbc00" stroke-width="0.6"/>
<circle cx="76" cy="440" r="3.3" fill="#f8e628" stroke="#dcbc00" stroke-width="0.6"/>
<circle cx="95" cy="447" r="3.3" fill="#f8e628" stroke="#dcbc00" stroke-width="0.6"/>
<circle cx="108" cy="441" r="3.3" fill="#f8e628" stroke="#dcbc00" stroke-width="0.6"/>
<circle cx="60" cy="455" r="3.3" fill="#f8e628" stroke="#dcbc00" stroke-width="0.6"/>
<circle cx="76" cy="465" r="3.3" fill="#f8e628" stroke="#dcbc00" stroke-width="0.6"/>
<circle cx="94" cy="462" r="3.3" fill="#f8e628" stroke="#dcbc00" stroke-width="0.6"/>
<circle cx="105" cy="455" r="3.3" fill="#f8e628" stroke="#dcbc00" stroke-width="0.6"/>
<circle cx="85" cy="478" r="3.3" fill="#f8e628" stroke="#dcbc00" stroke-width="0.6"/>
<circle cx="125" cy="420" r="3.3" fill="#f8e628" stroke="#dcbc00" stroke-width="0.6"/>
<circle cx="35" cy="430" r="3.3" fill="#f8e628" stroke="#dcbc00" stroke-width="0.6"/>
</g>
<circle cx="80" cy="425.5" r="48.5" fill="none" stroke="#3a3f4a" stroke-width="1.5" stroke-dasharray="5 4"/>
<path d="M211,188 Q194,195 180,212" fill="none" stroke="#ee7c22" stroke-width="5.5"/>
<path d="M165.2,228.1 L171.7,205.4 L185.9,217.5 Z" fill="#ee7c22"/>
<path d="M169,425 Q186,437 203,450" fill="none" stroke="#ee7c22" stroke-width="5.5"/>
<path d="M220.7,460.1 L206.5,443 L197.4,459.1 Z" fill="#ee7c22"/>
<path d="M339.5,459 Q357,448 375,438" fill="none" stroke="#ee7c22" stroke-width="5.5"/>
<path d="M391.2,423.1 L368.2,432.6 L380.9,446.1 Z" fill="#ee7c22"/>
<circle cx="91.5" cy="146.8" r="13" fill="none" stroke="#c86442" stroke-width="1.5"/>
<text x="91.5" y="152.8" font-size="17" fill="#d5643a" font-weight="normal" font-style="normal" text-anchor="middle" stroke="#d5643a" stroke-width="0.9" >1</text>
<circle cx="127.2" cy="484.6" r="13" fill="none" stroke="#c86442" stroke-width="1.5"/>
<text x="127.2" y="490.6" font-size="17" fill="#d5643a" font-weight="normal" font-style="normal" text-anchor="middle" stroke="#d5643a" stroke-width="0.9" >2</text>
<circle cx="373.7" cy="483.5" r="13" fill="none" stroke="#c86442" stroke-width="1.5"/>
<text x="373.7" y="489.5" font-size="17" fill="#d5643a" font-weight="normal" font-style="normal" text-anchor="middle" stroke="#d5643a" stroke-width="0.9" >3</text>
<circle cx="400.8" cy="151.4" r="13" fill="none" stroke="#c86442" stroke-width="1.5"/>
<text x="400.8" y="157.4" font-size="17" fill="#d5643a" font-weight="normal" font-style="normal" text-anchor="middle" stroke="#d5643a" stroke-width="0.9" >4</text>
<text x="118.3" y="150" font-size="15.6" fill="#d5643a" font-weight="bold" font-style="italic" text-anchor="start" textLength="90" lengthAdjust="spacingAndGlyphs" stroke="#d5643a" stroke-width="0.35" >Incubate for</text>
<text x="140.4" y="171.2" font-size="15.6" fill="#d5643a" font-weight="bold" font-style="italic" text-anchor="start" textLength="40" lengthAdjust="spacingAndGlyphs" stroke="#d5643a" stroke-width="0.35" >1 min</text>
<text x="148.6" y="491.5" font-size="15.7" fill="#d5643a" font-weight="bold" font-style="italic" text-anchor="start" textLength="105.4" lengthAdjust="spacingAndGlyphs" stroke="#d5643a" stroke-width="0.35" >Dry for 15 min</text>
<text x="432.3" y="156.1" font-size="15.8" fill="#d5643a" font-weight="bold" font-style="italic" text-anchor="start" textLength="90" lengthAdjust="spacingAndGlyphs" stroke="#d5643a" stroke-width="0.35" >Couple with</text>
<text x="425" y="174.2" font-size="15.6" fill="#d5643a" font-weight="bold" font-style="italic" text-anchor="start" textLength="107" lengthAdjust="spacingAndGlyphs" stroke="#d5643a" stroke-width="0.35" >NIR irradiation</text>
<text x="397.6" y="491.4" font-size="15.6" fill="#d5643a" font-weight="bold" font-style="italic" text-anchor="start" textLength="87" lengthAdjust="spacingAndGlyphs" stroke="#d5643a" stroke-width="0.35" >Vaccination</text>
<text x="167" y="43" font-size="19" fill="#1a1a1a" font-weight="normal" font-style="normal" text-anchor="start" textLength="230" lengthAdjust="spacingAndGlyphs" stroke="#1a1a1a" stroke-width="0.35" >Photothermal ultra-swelling</text>
<text x="162" y="65" font-size="19" fill="#1a1a1a" font-weight="normal" font-style="normal" text-anchor="start" textLength="242" lengthAdjust="spacingAndGlyphs" stroke="#1a1a1a" stroke-width="0.35" >microneedle (PUSMN) patch</text>
<text x="167" y="384" font-size="16.4" fill="#1a1a1a" font-weight="normal" font-style="normal" text-anchor="start" textLength="105" lengthAdjust="spacingAndGlyphs" stroke="#1a1a1a" stroke-width="0.35" >Tumor antigen</text>
<text x="0.8" y="534.7" font-size="18.3" fill="#1a1a1a" font-weight="normal" font-style="normal" text-anchor="start" textLength="191" lengthAdjust="spacingAndGlyphs" stroke="#1a1a1a" stroke-width="0.35" >PUSMNs rapid swelling</text>
<text x="10.3" y="557" font-size="18.3" fill="#1a1a1a" font-weight="normal" font-style="normal" text-anchor="start" textLength="169" lengthAdjust="spacingAndGlyphs" stroke="#1a1a1a" stroke-width="0.35" >and antigen diffusion</text>
<text x="340.6" y="623.5" font-size="17.9" fill="#1a1a1a" font-weight="normal" font-style="normal" text-anchor="start" textLength="173.6" lengthAdjust="spacingAndGlyphs" stroke="#1a1a1a" stroke-width="0.35" >Tumor antigen loaded</text>
<text x="392.4" y="646" font-size="17" fill="#1a1a1a" font-weight="normal" font-style="normal" text-anchor="start" textLength="69.9" lengthAdjust="spacingAndGlyphs" stroke="#1a1a1a" stroke-width="0.35" >PUSMNs</text>
<line x1="585" y1="-20.62" x2="585" y2="700" stroke="#2a2a2a" stroke-width="2" stroke-dasharray="9.3 9.46"/>
<line x1="577.24" y1="0.6" x2="1275" y2="0.6" stroke="#1e1e1e" stroke-width="2.2" stroke-dasharray="9.3 9.46"/>
<line x1="1268" y1="-16.16" x2="1268" y2="700" stroke="#1e1e1e" stroke-width="2.4" stroke-dasharray="9.3 9.46"/>
<line x1="584" y1="692" x2="1275" y2="692" stroke="#1e1e1e" stroke-width="2.6" stroke-dasharray="9.3 9.46"/>
</svg></body></html>
